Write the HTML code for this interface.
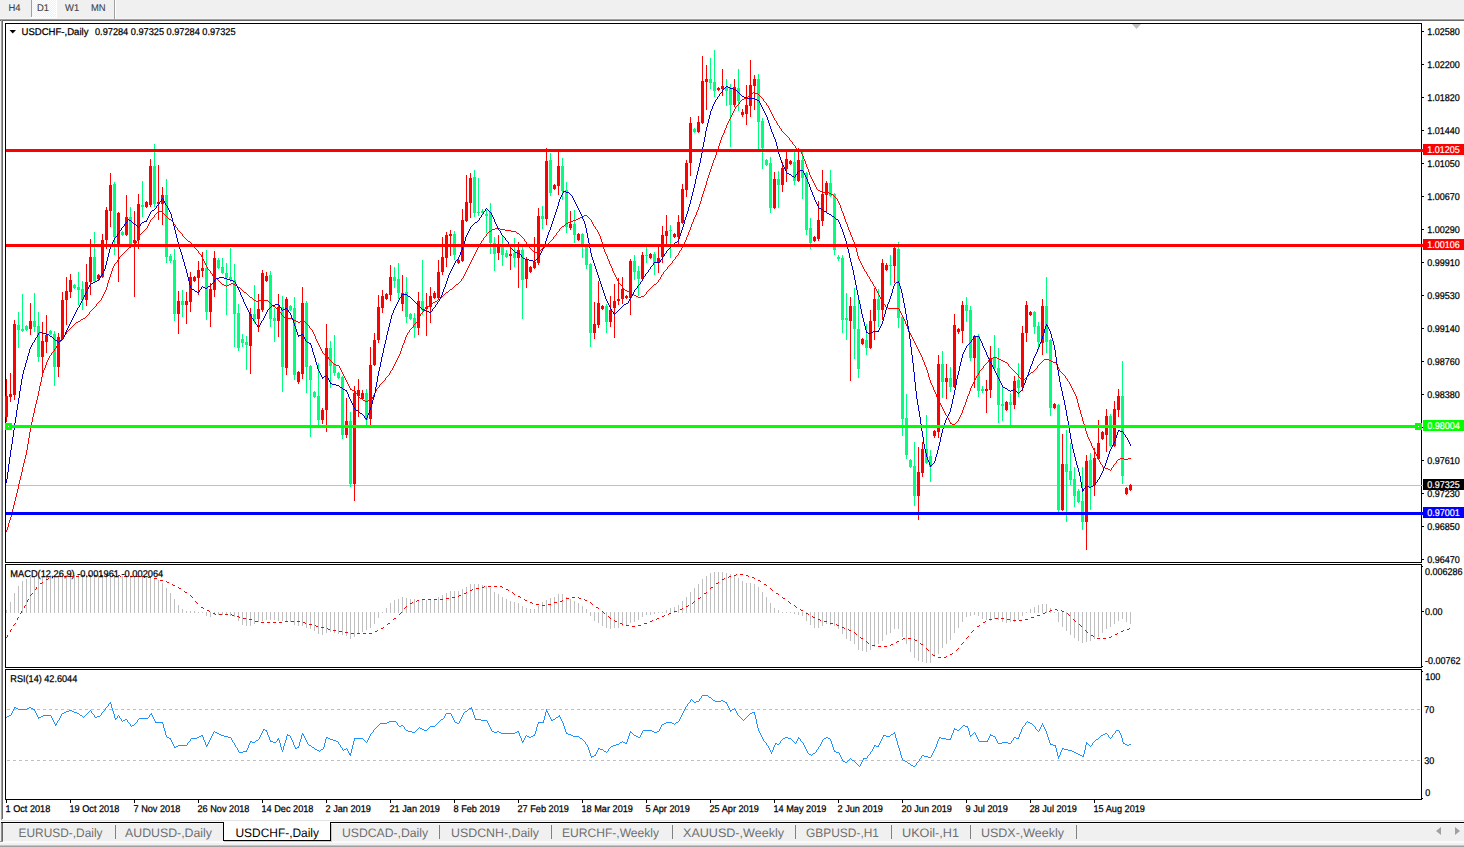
<!DOCTYPE html>
<html><head><meta charset="utf-8"><title>USDCHF-,Daily</title>
<style>html,body{margin:0;padding:0;background:#fff;}body{width:1464px;height:847px;overflow:hidden;position:relative;font-family:"Liberation Sans", sans-serif;}svg{position:absolute;left:0;top:0;display:block}text{font-family:"Liberation Sans", sans-serif;text-rendering:geometricPrecision;}</style>
</head><body>
<svg width="1464" height="847" viewBox="0 0 1464 847">
<rect x="0" y="0" width="1464" height="847" fill="#ffffff"/>
<g shape-rendering="crispEdges">
<rect x="0" y="0" width="1464" height="19" fill="#f0f0f0"/>
<rect x="0" y="18" width="1464" height="1" fill="#f6f6f6"/>
<rect x="0" y="19" width="1464" height="1" fill="#a0a0a0"/>
<rect x="0" y="20" width="1464" height="1" fill="#696969"/>
<defs><pattern id="chk" width="2" height="2" patternUnits="userSpaceOnUse"><rect width="2" height="2" fill="#f0f0f0"/><rect width="1" height="1" fill="#fff"/><rect x="1" y="1" width="1" height="1" fill="#fff"/></pattern></defs>
<rect x="32" y="0" width="24" height="17" fill="url(#chk)"/>
<rect x="56" y="0" width="1" height="18" fill="#ffffff"/>
<rect x="31" y="17" width="26" height="1" fill="#ffffff"/>
<rect x="31" y="0" width="1" height="17" fill="#a0a0a0"/>
<rect x="114" y="0" width="1" height="19" fill="#a0a0a0"/>
<rect x="115" y="0" width="1" height="19" fill="#ffffff"/>
<rect x="0" y="21" width="1" height="799" fill="#f4f4f4"/>
<rect x="1" y="20" width="1" height="800" fill="#a0a0a0"/>
<rect x="2" y="20" width="1" height="799" fill="#696969"/>
</g>
<text transform="translate(8.5 11) scale(0.96 1)" font-size="9.8" fill="#444444" stroke="#444444" stroke-width="0.12">H4</text>
<text transform="translate(37 11) scale(0.96 1)" font-size="9.8" fill="#444444" stroke="#444444" stroke-width="0.12">D1</text>
<text transform="translate(65 11) scale(0.96 1)" font-size="9.8" fill="#444444" stroke="#444444" stroke-width="0.12">W1</text>
<text transform="translate(91 11) scale(0.96 1)" font-size="9.8" fill="#444444" stroke="#444444" stroke-width="0.12">MN</text>
<g shape-rendering="crispEdges" fill="#000">
<rect x="5" y="23" width="1417" height="1"/>
<rect x="5" y="23" width="1" height="540"/>
<rect x="1421" y="23" width="1" height="540"/>
<rect x="5" y="564" width="1" height="104"/>
<rect x="1421" y="564" width="1" height="104"/>
<rect x="5" y="669" width="1" height="131"/>
<rect x="1421" y="669" width="1" height="131"/>
<rect x="5" y="562" width="1417" height="1"/>
<rect x="5" y="564" width="1417" height="1"/>
<rect x="5" y="667" width="1417" height="1"/>
<rect x="5" y="669" width="1417" height="1"/>
<rect x="5" y="799" width="1417" height="1"/>
</g>
<g shape-rendering="crispEdges">
<rect x="6" y="485" width="1417" height="1" fill="#c0c0c0"/>
</g>
<g shape-rendering="crispEdges">
<rect x="6" y="379" width="1" height="43" fill="#ff0000"/>
<rect x="5" y="396" width="3" height="21" fill="#ff0000"/>
<rect x="10" y="373" width="1" height="29" fill="#ff0000"/>
<rect x="9" y="394" width="3" height="3" fill="#ff0000"/>
<rect x="14" y="320" width="1" height="80" fill="#ff0000"/>
<rect x="13" y="324" width="3" height="71" fill="#ff0000"/>
<rect x="18" y="312" width="1" height="36" fill="#00ff7f"/>
<rect x="17" y="325" width="3" height="5" fill="#00ff7f"/>
<rect x="22" y="294" width="1" height="38" fill="#00ff7f"/>
<rect x="21" y="329" width="3" height="2" fill="#00ff7f"/>
<rect x="26" y="325" width="1" height="6" fill="#00ff7f"/>
<rect x="25" y="326" width="3" height="4" fill="#00ff7f"/>
<rect x="30" y="303" width="1" height="32" fill="#ff0000"/>
<rect x="29" y="321" width="3" height="8" fill="#ff0000"/>
<rect x="34" y="293" width="1" height="39" fill="#00ff7f"/>
<rect x="33" y="321" width="3" height="6" fill="#00ff7f"/>
<rect x="38" y="312" width="1" height="50" fill="#00ff7f"/>
<rect x="37" y="326" width="3" height="31" fill="#00ff7f"/>
<rect x="42" y="322" width="1" height="55" fill="#ff0000"/>
<rect x="41" y="341" width="3" height="16" fill="#ff0000"/>
<rect x="46" y="315" width="1" height="38" fill="#ff0000"/>
<rect x="45" y="335" width="3" height="7" fill="#ff0000"/>
<rect x="50" y="330" width="1" height="5" fill="#00ff7f"/>
<rect x="49" y="331" width="3" height="3" fill="#00ff7f"/>
<rect x="54" y="331" width="1" height="55" fill="#00ff7f"/>
<rect x="53" y="334" width="3" height="33" fill="#00ff7f"/>
<rect x="58" y="333" width="1" height="44" fill="#ff0000"/>
<rect x="57" y="337" width="3" height="30" fill="#ff0000"/>
<rect x="62" y="292" width="1" height="48" fill="#ff0000"/>
<rect x="61" y="300" width="3" height="39" fill="#ff0000"/>
<rect x="66" y="277" width="1" height="48" fill="#ff0000"/>
<rect x="65" y="291" width="3" height="9" fill="#ff0000"/>
<rect x="70" y="274" width="1" height="24" fill="#ff0000"/>
<rect x="69" y="280" width="3" height="12" fill="#ff0000"/>
<rect x="74" y="284" width="1" height="5" fill="#00ff7f"/>
<rect x="73" y="285" width="3" height="3" fill="#00ff7f"/>
<rect x="78" y="272" width="1" height="33" fill="#00ff7f"/>
<rect x="77" y="287" width="3" height="3" fill="#00ff7f"/>
<rect x="82" y="281" width="1" height="29" fill="#00ff7f"/>
<rect x="81" y="289" width="3" height="11" fill="#00ff7f"/>
<rect x="86" y="264" width="1" height="42" fill="#ff0000"/>
<rect x="85" y="282" width="3" height="18" fill="#ff0000"/>
<rect x="90" y="239" width="1" height="56" fill="#ff0000"/>
<rect x="89" y="257" width="3" height="25" fill="#ff0000"/>
<rect x="94" y="232" width="1" height="50" fill="#00ff7f"/>
<rect x="93" y="257" width="3" height="24" fill="#00ff7f"/>
<rect x="98" y="274" width="1" height="6" fill="#ff0000"/>
<rect x="97" y="275" width="3" height="4" fill="#ff0000"/>
<rect x="102" y="234" width="1" height="44" fill="#ff0000"/>
<rect x="101" y="240" width="3" height="37" fill="#ff0000"/>
<rect x="106" y="207" width="1" height="42" fill="#ff0000"/>
<rect x="105" y="210" width="3" height="30" fill="#ff0000"/>
<rect x="110" y="173" width="1" height="54" fill="#ff0000"/>
<rect x="109" y="185" width="3" height="26" fill="#ff0000"/>
<rect x="114" y="182" width="1" height="73" fill="#00ff7f"/>
<rect x="113" y="184" width="3" height="53" fill="#00ff7f"/>
<rect x="118" y="212" width="1" height="70" fill="#ff0000"/>
<rect x="117" y="213" width="3" height="32" fill="#ff0000"/>
<rect x="122" y="231" width="1" height="5" fill="#00ff7f"/>
<rect x="121" y="232" width="3" height="3" fill="#00ff7f"/>
<rect x="126" y="195" width="1" height="41" fill="#ff0000"/>
<rect x="125" y="217" width="3" height="18" fill="#ff0000"/>
<rect x="130" y="207" width="1" height="38" fill="#00ff7f"/>
<rect x="129" y="217" width="3" height="27" fill="#00ff7f"/>
<rect x="134" y="211" width="1" height="86" fill="#ff0000"/>
<rect x="133" y="240" width="3" height="3" fill="#ff0000"/>
<rect x="138" y="194" width="1" height="55" fill="#ff0000"/>
<rect x="137" y="204" width="3" height="36" fill="#ff0000"/>
<rect x="142" y="181" width="1" height="36" fill="#00ff7f"/>
<rect x="141" y="205" width="3" height="2" fill="#00ff7f"/>
<rect x="146" y="201" width="1" height="7" fill="#ff0000"/>
<rect x="145" y="202" width="3" height="5" fill="#ff0000"/>
<rect x="150" y="159" width="1" height="48" fill="#ff0000"/>
<rect x="149" y="166" width="3" height="39" fill="#ff0000"/>
<rect x="154" y="144" width="1" height="63" fill="#00ff7f"/>
<rect x="153" y="166" width="3" height="38" fill="#00ff7f"/>
<rect x="158" y="165" width="1" height="55" fill="#ff0000"/>
<rect x="157" y="202" width="3" height="2" fill="#ff0000"/>
<rect x="162" y="187" width="1" height="38" fill="#ff0000"/>
<rect x="161" y="195" width="3" height="9" fill="#ff0000"/>
<rect x="166" y="179" width="1" height="84" fill="#00ff7f"/>
<rect x="165" y="195" width="3" height="62" fill="#00ff7f"/>
<rect x="170" y="254" width="1" height="9" fill="#00ff7f"/>
<rect x="169" y="256" width="3" height="5" fill="#00ff7f"/>
<rect x="174" y="249" width="1" height="72" fill="#00ff7f"/>
<rect x="173" y="260" width="3" height="54" fill="#00ff7f"/>
<rect x="178" y="291" width="1" height="43" fill="#ff0000"/>
<rect x="177" y="301" width="3" height="13" fill="#ff0000"/>
<rect x="182" y="290" width="1" height="27" fill="#00ff7f"/>
<rect x="181" y="301" width="3" height="4" fill="#00ff7f"/>
<rect x="186" y="292" width="1" height="32" fill="#ff0000"/>
<rect x="185" y="301" width="3" height="4" fill="#ff0000"/>
<rect x="190" y="272" width="1" height="40" fill="#ff0000"/>
<rect x="189" y="277" width="3" height="25" fill="#ff0000"/>
<rect x="194" y="276" width="1" height="6" fill="#ff0000"/>
<rect x="193" y="277" width="3" height="4" fill="#ff0000"/>
<rect x="198" y="261" width="1" height="34" fill="#ff0000"/>
<rect x="197" y="270" width="3" height="8" fill="#ff0000"/>
<rect x="202" y="252" width="1" height="25" fill="#ff0000"/>
<rect x="201" y="268" width="3" height="3" fill="#ff0000"/>
<rect x="206" y="250" width="1" height="70" fill="#00ff7f"/>
<rect x="205" y="268" width="3" height="44" fill="#00ff7f"/>
<rect x="210" y="283" width="1" height="44" fill="#ff0000"/>
<rect x="209" y="289" width="3" height="23" fill="#ff0000"/>
<rect x="214" y="251" width="1" height="46" fill="#ff0000"/>
<rect x="213" y="258" width="3" height="32" fill="#ff0000"/>
<rect x="218" y="258" width="1" height="11" fill="#00ff7f"/>
<rect x="217" y="260" width="3" height="8" fill="#00ff7f"/>
<rect x="222" y="258" width="1" height="16" fill="#00ff7f"/>
<rect x="221" y="267" width="3" height="6" fill="#00ff7f"/>
<rect x="226" y="263" width="1" height="52" fill="#00ff7f"/>
<rect x="225" y="273" width="3" height="5" fill="#00ff7f"/>
<rect x="230" y="248" width="1" height="34" fill="#00ff7f"/>
<rect x="229" y="277" width="3" height="3" fill="#00ff7f"/>
<rect x="234" y="264" width="1" height="83" fill="#00ff7f"/>
<rect x="233" y="280" width="3" height="34" fill="#00ff7f"/>
<rect x="238" y="304" width="1" height="47" fill="#00ff7f"/>
<rect x="237" y="313" width="3" height="35" fill="#00ff7f"/>
<rect x="242" y="334" width="1" height="13" fill="#00ff7f"/>
<rect x="241" y="339" width="3" height="4" fill="#00ff7f"/>
<rect x="246" y="336" width="1" height="34" fill="#00ff7f"/>
<rect x="245" y="342" width="3" height="3" fill="#00ff7f"/>
<rect x="250" y="308" width="1" height="66" fill="#ff0000"/>
<rect x="249" y="314" width="3" height="32" fill="#ff0000"/>
<rect x="254" y="285" width="1" height="38" fill="#00ff7f"/>
<rect x="253" y="314" width="3" height="5" fill="#00ff7f"/>
<rect x="258" y="294" width="1" height="38" fill="#ff0000"/>
<rect x="257" y="309" width="3" height="10" fill="#ff0000"/>
<rect x="262" y="270" width="1" height="42" fill="#ff0000"/>
<rect x="261" y="273" width="3" height="37" fill="#ff0000"/>
<rect x="266" y="272" width="1" height="10" fill="#ff0000"/>
<rect x="265" y="276" width="3" height="5" fill="#ff0000"/>
<rect x="270" y="271" width="1" height="56" fill="#00ff7f"/>
<rect x="269" y="275" width="3" height="44" fill="#00ff7f"/>
<rect x="274" y="308" width="1" height="34" fill="#00ff7f"/>
<rect x="273" y="318" width="3" height="3" fill="#00ff7f"/>
<rect x="278" y="294" width="1" height="43" fill="#ff0000"/>
<rect x="277" y="307" width="3" height="14" fill="#ff0000"/>
<rect x="282" y="296" width="1" height="96" fill="#00ff7f"/>
<rect x="281" y="307" width="3" height="60" fill="#00ff7f"/>
<rect x="286" y="297" width="1" height="78" fill="#ff0000"/>
<rect x="285" y="299" width="3" height="69" fill="#ff0000"/>
<rect x="290" y="305" width="1" height="6" fill="#00ff7f"/>
<rect x="289" y="306" width="3" height="4" fill="#00ff7f"/>
<rect x="294" y="297" width="1" height="83" fill="#00ff7f"/>
<rect x="293" y="308" width="3" height="67" fill="#00ff7f"/>
<rect x="298" y="371" width="1" height="13" fill="#ff0000"/>
<rect x="297" y="372" width="3" height="10" fill="#ff0000"/>
<rect x="302" y="287" width="1" height="92" fill="#ff0000"/>
<rect x="301" y="303" width="3" height="71" fill="#ff0000"/>
<rect x="306" y="301" width="1" height="92" fill="#00ff7f"/>
<rect x="305" y="303" width="3" height="64" fill="#00ff7f"/>
<rect x="310" y="365" width="1" height="72" fill="#00ff7f"/>
<rect x="309" y="366" width="3" height="14" fill="#00ff7f"/>
<rect x="314" y="391" width="1" height="7" fill="#00ff7f"/>
<rect x="313" y="392" width="3" height="5" fill="#00ff7f"/>
<rect x="318" y="363" width="1" height="62" fill="#00ff7f"/>
<rect x="317" y="396" width="3" height="24" fill="#00ff7f"/>
<rect x="322" y="408" width="1" height="16" fill="#ff0000"/>
<rect x="321" y="410" width="3" height="10" fill="#ff0000"/>
<rect x="326" y="324" width="1" height="108" fill="#ff0000"/>
<rect x="325" y="348" width="3" height="62" fill="#ff0000"/>
<rect x="330" y="341" width="1" height="47" fill="#00ff7f"/>
<rect x="329" y="348" width="3" height="18" fill="#00ff7f"/>
<rect x="334" y="335" width="1" height="41" fill="#00ff7f"/>
<rect x="333" y="364" width="3" height="9" fill="#00ff7f"/>
<rect x="338" y="372" width="1" height="7" fill="#00ff7f"/>
<rect x="337" y="373" width="3" height="5" fill="#00ff7f"/>
<rect x="342" y="376" width="1" height="63" fill="#00ff7f"/>
<rect x="341" y="377" width="3" height="58" fill="#00ff7f"/>
<rect x="346" y="398" width="1" height="40" fill="#ff0000"/>
<rect x="345" y="421" width="3" height="14" fill="#ff0000"/>
<rect x="350" y="412" width="1" height="75" fill="#00ff7f"/>
<rect x="349" y="421" width="3" height="63" fill="#00ff7f"/>
<rect x="354" y="386" width="1" height="115" fill="#ff0000"/>
<rect x="353" y="393" width="3" height="91" fill="#ff0000"/>
<rect x="358" y="379" width="1" height="38" fill="#ff0000"/>
<rect x="357" y="390" width="3" height="6" fill="#ff0000"/>
<rect x="362" y="390" width="1" height="10" fill="#ff0000"/>
<rect x="361" y="393" width="3" height="6" fill="#ff0000"/>
<rect x="366" y="389" width="1" height="36" fill="#00ff7f"/>
<rect x="365" y="393" width="3" height="27" fill="#00ff7f"/>
<rect x="370" y="347" width="1" height="78" fill="#ff0000"/>
<rect x="369" y="365" width="3" height="54" fill="#ff0000"/>
<rect x="374" y="333" width="1" height="33" fill="#ff0000"/>
<rect x="373" y="340" width="3" height="25" fill="#ff0000"/>
<rect x="378" y="295" width="1" height="48" fill="#ff0000"/>
<rect x="377" y="307" width="3" height="33" fill="#ff0000"/>
<rect x="382" y="290" width="1" height="23" fill="#ff0000"/>
<rect x="381" y="296" width="3" height="12" fill="#ff0000"/>
<rect x="386" y="293" width="1" height="7" fill="#ff0000"/>
<rect x="385" y="294" width="3" height="5" fill="#ff0000"/>
<rect x="390" y="265" width="1" height="36" fill="#ff0000"/>
<rect x="389" y="277" width="3" height="18" fill="#ff0000"/>
<rect x="394" y="267" width="1" height="21" fill="#00ff7f"/>
<rect x="393" y="277" width="3" height="4" fill="#00ff7f"/>
<rect x="398" y="263" width="1" height="36" fill="#00ff7f"/>
<rect x="397" y="279" width="3" height="14" fill="#00ff7f"/>
<rect x="402" y="275" width="1" height="36" fill="#ff0000"/>
<rect x="401" y="293" width="3" height="11" fill="#ff0000"/>
<rect x="406" y="277" width="1" height="46" fill="#00ff7f"/>
<rect x="405" y="292" width="3" height="25" fill="#00ff7f"/>
<rect x="410" y="313" width="1" height="7" fill="#00ff7f"/>
<rect x="409" y="314" width="3" height="5" fill="#00ff7f"/>
<rect x="414" y="313" width="1" height="25" fill="#00ff7f"/>
<rect x="413" y="318" width="3" height="10" fill="#00ff7f"/>
<rect x="418" y="292" width="1" height="43" fill="#ff0000"/>
<rect x="417" y="301" width="3" height="27" fill="#ff0000"/>
<rect x="422" y="260" width="1" height="55" fill="#00ff7f"/>
<rect x="421" y="301" width="3" height="9" fill="#00ff7f"/>
<rect x="426" y="293" width="1" height="43" fill="#ff0000"/>
<rect x="425" y="307" width="3" height="2" fill="#ff0000"/>
<rect x="430" y="287" width="1" height="36" fill="#ff0000"/>
<rect x="429" y="296" width="3" height="11" fill="#ff0000"/>
<rect x="434" y="291" width="1" height="8" fill="#ff0000"/>
<rect x="433" y="293" width="3" height="5" fill="#ff0000"/>
<rect x="438" y="260" width="1" height="39" fill="#ff0000"/>
<rect x="437" y="272" width="3" height="26" fill="#ff0000"/>
<rect x="442" y="237" width="1" height="38" fill="#ff0000"/>
<rect x="441" y="257" width="3" height="15" fill="#ff0000"/>
<rect x="446" y="232" width="1" height="35" fill="#ff0000"/>
<rect x="445" y="235" width="3" height="23" fill="#ff0000"/>
<rect x="450" y="230" width="1" height="26" fill="#ff0000"/>
<rect x="449" y="234" width="3" height="2" fill="#ff0000"/>
<rect x="454" y="231" width="1" height="29" fill="#00ff7f"/>
<rect x="453" y="234" width="3" height="21" fill="#00ff7f"/>
<rect x="458" y="259" width="1" height="5" fill="#ff0000"/>
<rect x="457" y="260" width="3" height="3" fill="#ff0000"/>
<rect x="462" y="209" width="1" height="53" fill="#ff0000"/>
<rect x="461" y="220" width="3" height="41" fill="#ff0000"/>
<rect x="466" y="175" width="1" height="47" fill="#ff0000"/>
<rect x="465" y="202" width="3" height="19" fill="#ff0000"/>
<rect x="470" y="173" width="1" height="45" fill="#ff0000"/>
<rect x="469" y="178" width="3" height="25" fill="#ff0000"/>
<rect x="474" y="170" width="1" height="47" fill="#00ff7f"/>
<rect x="473" y="177" width="3" height="36" fill="#00ff7f"/>
<rect x="478" y="178" width="1" height="38" fill="#00ff7f"/>
<rect x="477" y="212" width="3" height="1" fill="#00ff7f"/>
<rect x="482" y="209" width="1" height="6" fill="#00ff7f"/>
<rect x="481" y="211" width="3" height="2" fill="#00ff7f"/>
<rect x="486" y="210" width="1" height="23" fill="#00ff7f"/>
<rect x="485" y="214" width="3" height="2" fill="#00ff7f"/>
<rect x="490" y="203" width="1" height="51" fill="#00ff7f"/>
<rect x="489" y="212" width="3" height="31" fill="#00ff7f"/>
<rect x="494" y="237" width="1" height="34" fill="#00ff7f"/>
<rect x="493" y="243" width="3" height="11" fill="#00ff7f"/>
<rect x="498" y="235" width="1" height="25" fill="#ff0000"/>
<rect x="497" y="247" width="3" height="6" fill="#ff0000"/>
<rect x="502" y="236" width="1" height="30" fill="#00ff7f"/>
<rect x="501" y="247" width="3" height="8" fill="#00ff7f"/>
<rect x="506" y="250" width="1" height="8" fill="#00ff7f"/>
<rect x="505" y="253" width="3" height="4" fill="#00ff7f"/>
<rect x="510" y="247" width="1" height="23" fill="#ff0000"/>
<rect x="509" y="254" width="3" height="2" fill="#ff0000"/>
<rect x="514" y="238" width="1" height="29" fill="#00ff7f"/>
<rect x="513" y="253" width="3" height="5" fill="#00ff7f"/>
<rect x="518" y="242" width="1" height="46" fill="#ff0000"/>
<rect x="517" y="250" width="3" height="8" fill="#ff0000"/>
<rect x="522" y="247" width="1" height="72" fill="#00ff7f"/>
<rect x="521" y="250" width="3" height="30" fill="#00ff7f"/>
<rect x="526" y="257" width="1" height="31" fill="#ff0000"/>
<rect x="525" y="259" width="3" height="20" fill="#ff0000"/>
<rect x="530" y="266" width="1" height="7" fill="#ff0000"/>
<rect x="529" y="267" width="3" height="5" fill="#ff0000"/>
<rect x="534" y="237" width="1" height="32" fill="#ff0000"/>
<rect x="533" y="262" width="3" height="6" fill="#ff0000"/>
<rect x="538" y="208" width="1" height="57" fill="#ff0000"/>
<rect x="537" y="216" width="3" height="47" fill="#ff0000"/>
<rect x="542" y="206" width="1" height="23" fill="#00ff7f"/>
<rect x="541" y="216" width="3" height="3" fill="#00ff7f"/>
<rect x="546" y="148" width="1" height="77" fill="#ff0000"/>
<rect x="545" y="161" width="3" height="58" fill="#ff0000"/>
<rect x="550" y="153" width="1" height="43" fill="#00ff7f"/>
<rect x="549" y="160" width="3" height="33" fill="#00ff7f"/>
<rect x="554" y="184" width="1" height="6" fill="#ff0000"/>
<rect x="553" y="185" width="3" height="4" fill="#ff0000"/>
<rect x="558" y="152" width="1" height="43" fill="#ff0000"/>
<rect x="557" y="166" width="3" height="20" fill="#ff0000"/>
<rect x="562" y="158" width="1" height="42" fill="#00ff7f"/>
<rect x="561" y="166" width="3" height="25" fill="#00ff7f"/>
<rect x="566" y="182" width="1" height="51" fill="#00ff7f"/>
<rect x="565" y="190" width="3" height="37" fill="#00ff7f"/>
<rect x="570" y="211" width="1" height="19" fill="#ff0000"/>
<rect x="569" y="224" width="3" height="4" fill="#ff0000"/>
<rect x="574" y="210" width="1" height="33" fill="#00ff7f"/>
<rect x="573" y="224" width="3" height="11" fill="#00ff7f"/>
<rect x="578" y="233" width="1" height="8" fill="#ff0000"/>
<rect x="577" y="234" width="3" height="6" fill="#ff0000"/>
<rect x="582" y="233" width="1" height="25" fill="#00ff7f"/>
<rect x="581" y="234" width="3" height="10" fill="#00ff7f"/>
<rect x="586" y="246" width="1" height="23" fill="#00ff7f"/>
<rect x="585" y="247" width="3" height="18" fill="#00ff7f"/>
<rect x="590" y="263" width="1" height="84" fill="#00ff7f"/>
<rect x="589" y="264" width="3" height="69" fill="#00ff7f"/>
<rect x="594" y="302" width="1" height="37" fill="#ff0000"/>
<rect x="593" y="324" width="3" height="9" fill="#ff0000"/>
<rect x="598" y="281" width="1" height="47" fill="#ff0000"/>
<rect x="597" y="303" width="3" height="22" fill="#ff0000"/>
<rect x="602" y="305" width="1" height="5" fill="#ff0000"/>
<rect x="601" y="306" width="3" height="3" fill="#ff0000"/>
<rect x="606" y="304" width="1" height="29" fill="#00ff7f"/>
<rect x="605" y="306" width="3" height="16" fill="#00ff7f"/>
<rect x="610" y="296" width="1" height="31" fill="#ff0000"/>
<rect x="609" y="310" width="3" height="12" fill="#ff0000"/>
<rect x="614" y="284" width="1" height="54" fill="#ff0000"/>
<rect x="613" y="301" width="3" height="7" fill="#ff0000"/>
<rect x="618" y="278" width="1" height="27" fill="#ff0000"/>
<rect x="617" y="299" width="3" height="2" fill="#ff0000"/>
<rect x="622" y="277" width="1" height="27" fill="#ff0000"/>
<rect x="621" y="289" width="3" height="10" fill="#ff0000"/>
<rect x="626" y="295" width="1" height="4" fill="#ff0000"/>
<rect x="625" y="296" width="3" height="2" fill="#ff0000"/>
<rect x="630" y="259" width="1" height="56" fill="#ff0000"/>
<rect x="629" y="261" width="3" height="37" fill="#ff0000"/>
<rect x="634" y="255" width="1" height="25" fill="#00ff7f"/>
<rect x="633" y="261" width="3" height="11" fill="#00ff7f"/>
<rect x="638" y="266" width="1" height="30" fill="#00ff7f"/>
<rect x="637" y="271" width="3" height="8" fill="#00ff7f"/>
<rect x="642" y="252" width="1" height="28" fill="#ff0000"/>
<rect x="641" y="255" width="3" height="24" fill="#ff0000"/>
<rect x="646" y="247" width="1" height="16" fill="#00ff7f"/>
<rect x="645" y="255" width="3" height="1" fill="#00ff7f"/>
<rect x="650" y="253" width="1" height="6" fill="#ff0000"/>
<rect x="649" y="254" width="3" height="4" fill="#ff0000"/>
<rect x="654" y="252" width="1" height="23" fill="#00ff7f"/>
<rect x="653" y="254" width="3" height="9" fill="#00ff7f"/>
<rect x="658" y="247" width="1" height="26" fill="#ff0000"/>
<rect x="657" y="258" width="3" height="4" fill="#ff0000"/>
<rect x="662" y="226" width="1" height="37" fill="#ff0000"/>
<rect x="661" y="235" width="3" height="22" fill="#ff0000"/>
<rect x="666" y="215" width="1" height="32" fill="#ff0000"/>
<rect x="665" y="231" width="3" height="5" fill="#ff0000"/>
<rect x="670" y="225" width="1" height="33" fill="#00ff7f"/>
<rect x="669" y="230" width="3" height="1" fill="#00ff7f"/>
<rect x="674" y="233" width="1" height="5" fill="#ff0000"/>
<rect x="673" y="234" width="3" height="3" fill="#ff0000"/>
<rect x="678" y="215" width="1" height="32" fill="#ff0000"/>
<rect x="677" y="222" width="3" height="15" fill="#ff0000"/>
<rect x="682" y="184" width="1" height="40" fill="#ff0000"/>
<rect x="681" y="189" width="3" height="34" fill="#ff0000"/>
<rect x="686" y="160" width="1" height="37" fill="#ff0000"/>
<rect x="685" y="163" width="3" height="27" fill="#ff0000"/>
<rect x="690" y="117" width="1" height="59" fill="#ff0000"/>
<rect x="689" y="123" width="3" height="40" fill="#ff0000"/>
<rect x="694" y="128" width="1" height="5" fill="#00ff7f"/>
<rect x="693" y="129" width="3" height="3" fill="#00ff7f"/>
<rect x="698" y="116" width="1" height="17" fill="#ff0000"/>
<rect x="697" y="122" width="3" height="10" fill="#ff0000"/>
<rect x="702" y="56" width="1" height="68" fill="#ff0000"/>
<rect x="701" y="81" width="3" height="42" fill="#ff0000"/>
<rect x="706" y="65" width="1" height="45" fill="#ff0000"/>
<rect x="705" y="79" width="3" height="3" fill="#ff0000"/>
<rect x="710" y="58" width="1" height="31" fill="#00ff7f"/>
<rect x="709" y="79" width="3" height="4" fill="#00ff7f"/>
<rect x="714" y="50" width="1" height="47" fill="#00ff7f"/>
<rect x="713" y="82" width="3" height="9" fill="#00ff7f"/>
<rect x="718" y="87" width="1" height="4" fill="#ff0000"/>
<rect x="717" y="88" width="3" height="2" fill="#ff0000"/>
<rect x="722" y="69" width="1" height="27" fill="#ff0000"/>
<rect x="721" y="86" width="3" height="3" fill="#ff0000"/>
<rect x="726" y="79" width="1" height="27" fill="#00ff7f"/>
<rect x="725" y="87" width="3" height="4" fill="#00ff7f"/>
<rect x="730" y="84" width="1" height="63" fill="#00ff7f"/>
<rect x="729" y="88" width="3" height="17" fill="#00ff7f"/>
<rect x="734" y="79" width="1" height="28" fill="#ff0000"/>
<rect x="733" y="87" width="3" height="18" fill="#ff0000"/>
<rect x="738" y="69" width="1" height="42" fill="#00ff7f"/>
<rect x="737" y="88" width="3" height="13" fill="#00ff7f"/>
<rect x="742" y="109" width="1" height="8" fill="#ff0000"/>
<rect x="741" y="112" width="3" height="3" fill="#ff0000"/>
<rect x="746" y="85" width="1" height="40" fill="#ff0000"/>
<rect x="745" y="105" width="3" height="9" fill="#ff0000"/>
<rect x="750" y="60" width="1" height="57" fill="#ff0000"/>
<rect x="749" y="85" width="3" height="21" fill="#ff0000"/>
<rect x="754" y="75" width="1" height="35" fill="#ff0000"/>
<rect x="753" y="79" width="3" height="7" fill="#ff0000"/>
<rect x="758" y="74" width="1" height="75" fill="#00ff7f"/>
<rect x="757" y="79" width="3" height="43" fill="#00ff7f"/>
<rect x="762" y="118" width="1" height="51" fill="#00ff7f"/>
<rect x="761" y="121" width="3" height="27" fill="#00ff7f"/>
<rect x="766" y="159" width="1" height="7" fill="#00ff7f"/>
<rect x="765" y="160" width="3" height="5" fill="#00ff7f"/>
<rect x="770" y="157" width="1" height="56" fill="#00ff7f"/>
<rect x="769" y="163" width="3" height="45" fill="#00ff7f"/>
<rect x="774" y="172" width="1" height="37" fill="#ff0000"/>
<rect x="773" y="179" width="3" height="29" fill="#ff0000"/>
<rect x="778" y="171" width="1" height="37" fill="#00ff7f"/>
<rect x="777" y="179" width="3" height="6" fill="#00ff7f"/>
<rect x="782" y="162" width="1" height="30" fill="#ff0000"/>
<rect x="781" y="168" width="3" height="17" fill="#ff0000"/>
<rect x="786" y="152" width="1" height="30" fill="#ff0000"/>
<rect x="785" y="159" width="3" height="10" fill="#ff0000"/>
<rect x="790" y="160" width="1" height="5" fill="#ff0000"/>
<rect x="789" y="161" width="3" height="3" fill="#ff0000"/>
<rect x="794" y="152" width="1" height="33" fill="#00ff7f"/>
<rect x="793" y="162" width="3" height="19" fill="#00ff7f"/>
<rect x="798" y="148" width="1" height="34" fill="#ff0000"/>
<rect x="797" y="160" width="3" height="21" fill="#ff0000"/>
<rect x="802" y="152" width="1" height="47" fill="#00ff7f"/>
<rect x="801" y="160" width="3" height="18" fill="#00ff7f"/>
<rect x="806" y="172" width="1" height="63" fill="#00ff7f"/>
<rect x="805" y="173" width="3" height="57" fill="#00ff7f"/>
<rect x="810" y="218" width="1" height="31" fill="#00ff7f"/>
<rect x="809" y="228" width="3" height="15" fill="#00ff7f"/>
<rect x="814" y="236" width="1" height="6" fill="#ff0000"/>
<rect x="813" y="237" width="3" height="4" fill="#ff0000"/>
<rect x="818" y="201" width="1" height="40" fill="#ff0000"/>
<rect x="817" y="220" width="3" height="19" fill="#ff0000"/>
<rect x="822" y="170" width="1" height="56" fill="#ff0000"/>
<rect x="821" y="194" width="3" height="27" fill="#ff0000"/>
<rect x="826" y="181" width="1" height="32" fill="#ff0000"/>
<rect x="825" y="183" width="3" height="12" fill="#ff0000"/>
<rect x="830" y="170" width="1" height="27" fill="#00ff7f"/>
<rect x="829" y="183" width="3" height="13" fill="#00ff7f"/>
<rect x="834" y="193" width="1" height="62" fill="#00ff7f"/>
<rect x="833" y="194" width="3" height="56" fill="#00ff7f"/>
<rect x="838" y="255" width="1" height="6" fill="#00ff7f"/>
<rect x="837" y="257" width="3" height="2" fill="#00ff7f"/>
<rect x="842" y="255" width="1" height="78" fill="#00ff7f"/>
<rect x="841" y="258" width="3" height="62" fill="#00ff7f"/>
<rect x="846" y="293" width="1" height="47" fill="#00ff7f"/>
<rect x="845" y="318" width="3" height="2" fill="#00ff7f"/>
<rect x="850" y="297" width="1" height="84" fill="#ff0000"/>
<rect x="849" y="306" width="3" height="15" fill="#ff0000"/>
<rect x="854" y="288" width="1" height="71" fill="#00ff7f"/>
<rect x="853" y="306" width="3" height="23" fill="#00ff7f"/>
<rect x="858" y="298" width="1" height="80" fill="#00ff7f"/>
<rect x="857" y="329" width="3" height="40" fill="#00ff7f"/>
<rect x="862" y="338" width="1" height="7" fill="#ff0000"/>
<rect x="861" y="339" width="3" height="5" fill="#ff0000"/>
<rect x="866" y="324" width="1" height="31" fill="#00ff7f"/>
<rect x="865" y="340" width="3" height="8" fill="#00ff7f"/>
<rect x="870" y="310" width="1" height="39" fill="#ff0000"/>
<rect x="869" y="321" width="3" height="27" fill="#ff0000"/>
<rect x="874" y="288" width="1" height="52" fill="#ff0000"/>
<rect x="873" y="299" width="3" height="22" fill="#ff0000"/>
<rect x="878" y="289" width="1" height="38" fill="#00ff7f"/>
<rect x="877" y="299" width="3" height="11" fill="#00ff7f"/>
<rect x="882" y="259" width="1" height="61" fill="#ff0000"/>
<rect x="881" y="263" width="3" height="47" fill="#ff0000"/>
<rect x="886" y="263" width="1" height="8" fill="#ff0000"/>
<rect x="885" y="265" width="3" height="5" fill="#ff0000"/>
<rect x="890" y="255" width="1" height="30" fill="#00ff7f"/>
<rect x="889" y="265" width="3" height="1" fill="#00ff7f"/>
<rect x="894" y="247" width="1" height="36" fill="#ff0000"/>
<rect x="893" y="248" width="3" height="18" fill="#ff0000"/>
<rect x="898" y="242" width="1" height="86" fill="#00ff7f"/>
<rect x="897" y="249" width="3" height="69" fill="#00ff7f"/>
<rect x="902" y="316" width="1" height="120" fill="#00ff7f"/>
<rect x="901" y="317" width="3" height="102" fill="#00ff7f"/>
<rect x="906" y="394" width="1" height="65" fill="#00ff7f"/>
<rect x="905" y="418" width="3" height="37" fill="#00ff7f"/>
<rect x="910" y="459" width="1" height="9" fill="#00ff7f"/>
<rect x="909" y="460" width="3" height="7" fill="#00ff7f"/>
<rect x="914" y="442" width="1" height="64" fill="#00ff7f"/>
<rect x="913" y="466" width="3" height="30" fill="#00ff7f"/>
<rect x="918" y="447" width="1" height="73" fill="#ff0000"/>
<rect x="917" y="472" width="3" height="24" fill="#ff0000"/>
<rect x="922" y="442" width="1" height="35" fill="#ff0000"/>
<rect x="921" y="449" width="3" height="24" fill="#ff0000"/>
<rect x="926" y="415" width="1" height="49" fill="#00ff7f"/>
<rect x="925" y="449" width="3" height="14" fill="#00ff7f"/>
<rect x="930" y="450" width="1" height="32" fill="#00ff7f"/>
<rect x="929" y="456" width="3" height="11" fill="#00ff7f"/>
<rect x="934" y="430" width="1" height="8" fill="#ff0000"/>
<rect x="933" y="431" width="3" height="5" fill="#ff0000"/>
<rect x="938" y="355" width="1" height="83" fill="#ff0000"/>
<rect x="937" y="364" width="3" height="68" fill="#ff0000"/>
<rect x="942" y="351" width="1" height="47" fill="#00ff7f"/>
<rect x="941" y="364" width="3" height="18" fill="#00ff7f"/>
<rect x="946" y="364" width="1" height="35" fill="#ff0000"/>
<rect x="945" y="378" width="3" height="4" fill="#ff0000"/>
<rect x="950" y="367" width="1" height="25" fill="#00ff7f"/>
<rect x="949" y="378" width="3" height="9" fill="#00ff7f"/>
<rect x="954" y="314" width="1" height="74" fill="#ff0000"/>
<rect x="953" y="325" width="3" height="62" fill="#ff0000"/>
<rect x="958" y="328" width="1" height="6" fill="#ff0000"/>
<rect x="957" y="329" width="3" height="3" fill="#ff0000"/>
<rect x="962" y="301" width="1" height="42" fill="#ff0000"/>
<rect x="961" y="305" width="3" height="26" fill="#ff0000"/>
<rect x="966" y="297" width="1" height="25" fill="#00ff7f"/>
<rect x="965" y="305" width="3" height="6" fill="#00ff7f"/>
<rect x="970" y="306" width="1" height="55" fill="#00ff7f"/>
<rect x="969" y="310" width="3" height="48" fill="#00ff7f"/>
<rect x="974" y="335" width="1" height="53" fill="#ff0000"/>
<rect x="973" y="336" width="3" height="22" fill="#ff0000"/>
<rect x="978" y="334" width="1" height="63" fill="#00ff7f"/>
<rect x="977" y="336" width="3" height="55" fill="#00ff7f"/>
<rect x="982" y="386" width="1" height="7" fill="#00ff7f"/>
<rect x="981" y="389" width="3" height="2" fill="#00ff7f"/>
<rect x="986" y="380" width="1" height="33" fill="#ff0000"/>
<rect x="985" y="389" width="3" height="2" fill="#ff0000"/>
<rect x="990" y="346" width="1" height="52" fill="#ff0000"/>
<rect x="989" y="358" width="3" height="32" fill="#ff0000"/>
<rect x="994" y="335" width="1" height="34" fill="#00ff7f"/>
<rect x="993" y="358" width="3" height="10" fill="#00ff7f"/>
<rect x="998" y="348" width="1" height="75" fill="#00ff7f"/>
<rect x="997" y="368" width="3" height="37" fill="#00ff7f"/>
<rect x="1002" y="387" width="1" height="34" fill="#00ff7f"/>
<rect x="1001" y="404" width="3" height="2" fill="#00ff7f"/>
<rect x="1006" y="401" width="1" height="10" fill="#ff0000"/>
<rect x="1005" y="402" width="3" height="8" fill="#ff0000"/>
<rect x="1010" y="393" width="1" height="32" fill="#00ff7f"/>
<rect x="1009" y="402" width="3" height="3" fill="#00ff7f"/>
<rect x="1014" y="376" width="1" height="33" fill="#ff0000"/>
<rect x="1013" y="381" width="3" height="24" fill="#ff0000"/>
<rect x="1018" y="363" width="1" height="34" fill="#00ff7f"/>
<rect x="1017" y="380" width="3" height="8" fill="#00ff7f"/>
<rect x="1022" y="326" width="1" height="65" fill="#ff0000"/>
<rect x="1021" y="333" width="3" height="54" fill="#ff0000"/>
<rect x="1026" y="301" width="1" height="41" fill="#ff0000"/>
<rect x="1025" y="305" width="3" height="28" fill="#ff0000"/>
<rect x="1030" y="311" width="1" height="5" fill="#ff0000"/>
<rect x="1029" y="312" width="3" height="3" fill="#ff0000"/>
<rect x="1034" y="311" width="1" height="23" fill="#00ff7f"/>
<rect x="1033" y="312" width="3" height="15" fill="#00ff7f"/>
<rect x="1038" y="322" width="1" height="28" fill="#00ff7f"/>
<rect x="1037" y="326" width="3" height="16" fill="#00ff7f"/>
<rect x="1042" y="299" width="1" height="56" fill="#ff0000"/>
<rect x="1041" y="306" width="3" height="37" fill="#ff0000"/>
<rect x="1046" y="277" width="1" height="76" fill="#00ff7f"/>
<rect x="1045" y="306" width="3" height="36" fill="#00ff7f"/>
<rect x="1050" y="339" width="1" height="77" fill="#00ff7f"/>
<rect x="1049" y="340" width="3" height="68" fill="#00ff7f"/>
<rect x="1054" y="403" width="1" height="6" fill="#ff0000"/>
<rect x="1053" y="404" width="3" height="4" fill="#ff0000"/>
<rect x="1058" y="404" width="1" height="108" fill="#00ff7f"/>
<rect x="1057" y="405" width="3" height="105" fill="#00ff7f"/>
<rect x="1062" y="434" width="1" height="77" fill="#ff0000"/>
<rect x="1061" y="464" width="3" height="46" fill="#ff0000"/>
<rect x="1066" y="430" width="1" height="92" fill="#00ff7f"/>
<rect x="1065" y="464" width="3" height="8" fill="#00ff7f"/>
<rect x="1070" y="443" width="1" height="42" fill="#00ff7f"/>
<rect x="1069" y="471" width="3" height="9" fill="#00ff7f"/>
<rect x="1074" y="467" width="1" height="40" fill="#00ff7f"/>
<rect x="1073" y="479" width="3" height="17" fill="#00ff7f"/>
<rect x="1078" y="489" width="1" height="14" fill="#00ff7f"/>
<rect x="1077" y="491" width="3" height="11" fill="#00ff7f"/>
<rect x="1082" y="467" width="1" height="63" fill="#00ff7f"/>
<rect x="1081" y="501" width="3" height="21" fill="#00ff7f"/>
<rect x="1086" y="455" width="1" height="95" fill="#ff0000"/>
<rect x="1085" y="461" width="3" height="61" fill="#ff0000"/>
<rect x="1090" y="453" width="1" height="57" fill="#00ff7f"/>
<rect x="1089" y="460" width="3" height="27" fill="#00ff7f"/>
<rect x="1094" y="448" width="1" height="48" fill="#ff0000"/>
<rect x="1093" y="458" width="3" height="27" fill="#ff0000"/>
<rect x="1098" y="420" width="1" height="40" fill="#ff0000"/>
<rect x="1097" y="443" width="3" height="16" fill="#ff0000"/>
<rect x="1102" y="431" width="1" height="9" fill="#ff0000"/>
<rect x="1101" y="432" width="3" height="7" fill="#ff0000"/>
<rect x="1106" y="409" width="1" height="43" fill="#ff0000"/>
<rect x="1105" y="416" width="3" height="19" fill="#ff0000"/>
<rect x="1110" y="414" width="1" height="33" fill="#00ff7f"/>
<rect x="1109" y="416" width="3" height="30" fill="#00ff7f"/>
<rect x="1114" y="401" width="1" height="46" fill="#ff0000"/>
<rect x="1113" y="409" width="3" height="37" fill="#ff0000"/>
<rect x="1118" y="389" width="1" height="28" fill="#ff0000"/>
<rect x="1117" y="396" width="3" height="14" fill="#ff0000"/>
<rect x="1122" y="361" width="1" height="123" fill="#00ff7f"/>
<rect x="1121" y="396" width="3" height="80" fill="#00ff7f"/>
<rect x="1126" y="487" width="1" height="8" fill="#ff0000"/>
<rect x="1125" y="488" width="3" height="6" fill="#ff0000"/>
<rect x="1130" y="484" width="1" height="7" fill="#ff0000"/>
<rect x="1129" y="485" width="3" height="5" fill="#ff0000"/>
</g>
<path shape-rendering="crispEdges" fill="none" stroke="#ff0000" stroke-width="1" d="M6.5 530v2M7.5 527v3M8.5 523v4M9.5 520v3M10.5 517v3M11.5 513v4M12.5 509v4M13.5 505v4M14.5 501v4M15.5 497v4M16.5 493v4M17.5 489v4M18.5 484v5M19.5 480v4M20.5 476v4M21.5 472v4M22.5 467v5M23.5 463v4M24.5 459v4M25.5 455v4M26.5 450v5M27.5 444v6M28.5 438v6M29.5 432v6M30.5 426v6M31.5 422v4M32.5 417v5M33.5 413v4M34.5 408v5M35.5 404v4M36.5 400v4M37.5 396v4M38.5 391v5M39.5 386v5M40.5 382v4M41.5 377v5M42.5 373v4M43.5 370v3M44.5 368v2M45.5 365v3M46.5 362v3M47.5 360v2M48.5 358v2M49.5 356v2M50.5 355v1M51.5 353v2M52.5 352v1M53.5 351v1M54.5 349v2M55.5 348v1M56.5 346v2M57.5 345v1M58.5 343v2M59.5 342v1M60.5 341v1M61.5 339v2M62.5 338v1M63.5 336v2M64.5 335v1M65.5 334v1M66.5 332v2M67.5 331v1M68.5 330v1M69.5 329v1M70.5 328v1M71.5 327v1M72.5 326v1M73.5 325v1M74.5 324v1M75.5 323v1M76.5 322v1M77.5 322v1M78.5 321v1M79.5 321v1M80.5 320v1M81.5 319v1M82.5 319v1M83.5 318v1M84.5 318v1M85.5 317v1M86.5 316v1M87.5 315v1M88.5 314v1M89.5 312v2M90.5 311v1M91.5 310v1M92.5 309v1M93.5 308v1M94.5 307v1M95.5 306v1M96.5 304v2M97.5 303v1M98.5 302v1M99.5 301v1M100.5 300v1M101.5 298v2M102.5 296v2M103.5 294v2M104.5 292v2M105.5 290v2M106.5 287v3M107.5 283v4M108.5 280v3M109.5 277v3M110.5 274v3M111.5 271v3M112.5 268v3M113.5 266v2M114.5 264v2M115.5 263v1M116.5 262v1M117.5 260v2M118.5 259v1M119.5 257v2M120.5 256v1M121.5 255v1M122.5 254v1M123.5 253v1M124.5 252v1M125.5 251v1M126.5 250v1M127.5 249v1M128.5 248v1M129.5 247v1M130.5 247v1M131.5 246v1M132.5 245v1M133.5 244v1M134.5 244v1M135.5 243v1M136.5 241v2M137.5 239v2M138.5 237v2M139.5 235v2M140.5 234v1M141.5 233v1M142.5 232v1M143.5 231v1M144.5 230v1M145.5 229v1M146.5 228v1M147.5 226v2M148.5 224v2M149.5 222v2M150.5 220v2M151.5 219v1M152.5 218v1M153.5 217v1M154.5 215v2M155.5 214v1M156.5 213v1M157.5 212v1M158.5 212v1M159.5 211v1M160.5 211v1M161.5 211v1M162.5 212v1M163.5 213v1M164.5 214v1M165.5 215v1M166.5 216v1M167.5 217v1M168.5 218v1M169.5 219v1M170.5 219v1M171.5 220v1M172.5 221v1M173.5 222v2M174.5 224v1M175.5 225v2M176.5 227v1M177.5 228v2M178.5 230v1M179.5 231v1M180.5 232v1M181.5 233v1M182.5 234v2M183.5 236v1M184.5 237v1M185.5 238v1M186.5 239v1M187.5 240v1M188.5 241v1M189.5 241v1M190.5 242v1M191.5 243v1M192.5 244v1M193.5 245v2M194.5 247v1M195.5 248v1M196.5 249v1M197.5 250v1M198.5 251v2M199.5 253v1M200.5 254v1M201.5 255v2M202.5 257v2M203.5 259v2M204.5 261v2M205.5 263v2M206.5 265v2M207.5 267v2M208.5 269v1M209.5 270v1M210.5 271v2M211.5 273v1M212.5 274v2M213.5 276v1M214.5 277v1M215.5 277v1M216.5 278v1M217.5 279v1M218.5 280v1M219.5 281v1M220.5 282v1M221.5 283v1M222.5 284v1M223.5 284v1M224.5 285v1M225.5 285v1M226.5 286v1M227.5 285v1M228.5 285v1M229.5 284v1M230.5 284v1M231.5 283v1M232.5 283v1M233.5 284v1M234.5 284v1M235.5 285v1M236.5 285v1M237.5 286v1M238.5 287v1M239.5 287v1M240.5 288v1M241.5 289v1M242.5 290v1M243.5 291v1M244.5 292v1M245.5 292v1M246.5 293v1M247.5 294v1M248.5 295v1M249.5 296v1M250.5 297v1M251.5 297v1M252.5 298v1M253.5 299v1M254.5 300v1M255.5 300v1M256.5 301v1M257.5 301v1M258.5 301v1M259.5 300v1M260.5 300v1M261.5 300v1M262.5 300v1M263.5 300v1M264.5 300v1M265.5 300v1M266.5 300v1M267.5 300v1M268.5 301v1M269.5 302v1M270.5 303v1M271.5 304v1M272.5 305v1M273.5 306v1M274.5 306v1M275.5 307v1M276.5 308v1M277.5 308v1M278.5 309v1M279.5 310v2M280.5 312v1M281.5 313v2M282.5 315v1M283.5 316v1M284.5 317v1M285.5 317v1M286.5 318v1M287.5 318v1M288.5 318v1M289.5 318v1M290.5 318v1M291.5 318v1M292.5 319v1M293.5 319v1M294.5 320v1M295.5 320v1M296.5 321v1M297.5 321v1M298.5 322v1M299.5 322v1M300.5 321v1M301.5 320v1M302.5 319v1M303.5 320v1M304.5 321v1M305.5 322v1M306.5 323v1M307.5 324v1M308.5 325v1M309.5 326v2M310.5 328v1M311.5 329v1M312.5 330v2M313.5 332v2M314.5 334v2M315.5 336v3M316.5 339v2M317.5 341v2M318.5 343v2M319.5 345v2M320.5 347v2M321.5 349v2M322.5 351v2M323.5 353v1M324.5 354v1M325.5 354v1M326.5 355v1M327.5 356v1M328.5 357v2M329.5 359v1M330.5 360v1M331.5 361v1M332.5 362v1M333.5 363v1M334.5 364v1M335.5 364v1M336.5 365v1M337.5 365v1M338.5 365v1M339.5 366v2M340.5 368v2M341.5 370v2M342.5 372v2M343.5 374v2M344.5 376v2M345.5 378v2M346.5 380v2M347.5 382v2M348.5 384v2M349.5 386v2M350.5 388v2M351.5 389v1M352.5 390v1M353.5 390v1M354.5 390v1M355.5 391v2M356.5 393v1M357.5 394v2M358.5 396v1M359.5 397v1M360.5 398v1M361.5 398v1M362.5 399v1M363.5 400v1M364.5 400v1M365.5 401v1M366.5 401v1M367.5 401v1M368.5 400v1M369.5 400v1M370.5 399v1M371.5 399v1M372.5 397v2M373.5 395v2M374.5 393v2M375.5 391v2M376.5 389v2M377.5 388v1M378.5 387v1M379.5 385v2M380.5 384v1M381.5 383v1M382.5 382v1M383.5 381v1M384.5 380v1M385.5 378v2M386.5 377v1M387.5 376v1M388.5 375v1M389.5 373v2M390.5 371v2M391.5 370v1M392.5 368v2M393.5 366v2M394.5 364v2M395.5 362v2M396.5 360v2M397.5 358v2M398.5 356v2M399.5 354v2M400.5 351v3M401.5 348v3M402.5 345v3M403.5 343v2M404.5 340v3M405.5 337v3M406.5 335v2M407.5 333v2M408.5 332v1M409.5 330v2M410.5 329v1M411.5 328v1M412.5 327v1M413.5 325v2M414.5 324v1M415.5 323v1M416.5 322v1M417.5 320v2M418.5 318v2M419.5 316v2M420.5 314v2M421.5 313v1M422.5 312v1M423.5 310v2M424.5 309v1M425.5 308v1M426.5 307v1M427.5 306v1M428.5 306v1M429.5 305v1M430.5 304v1M431.5 303v1M432.5 303v1M433.5 302v1M434.5 302v1M435.5 301v1M436.5 301v1M437.5 300v1M438.5 299v1M439.5 299v1M440.5 298v1M441.5 297v1M442.5 296v1M443.5 295v1M444.5 294v1M445.5 293v1M446.5 292v1M447.5 292v1M448.5 291v1M449.5 290v1M450.5 289v1M451.5 289v1M452.5 288v1M453.5 287v1M454.5 286v1M455.5 285v1M456.5 284v1M457.5 284v1M458.5 283v1M459.5 282v1M460.5 281v1M461.5 279v2M462.5 278v1M463.5 276v2M464.5 274v2M465.5 272v2M466.5 270v2M467.5 268v2M468.5 266v2M469.5 264v2M470.5 262v2M471.5 260v2M472.5 258v2M473.5 256v2M474.5 254v2M475.5 252v2M476.5 250v2M477.5 248v2M478.5 246v2M479.5 245v1M480.5 243v2M481.5 241v2M482.5 240v1M483.5 238v2M484.5 237v1M485.5 236v1M486.5 234v2M487.5 233v1M488.5 232v1M489.5 231v1M490.5 231v1M491.5 230v1M492.5 229v1M493.5 229v1M494.5 229v1M495.5 228v1M496.5 228v1M497.5 228v1M498.5 228v1M499.5 228v1M500.5 229v1M501.5 229v1M502.5 229v1M503.5 229v1M504.5 229v1M505.5 230v1M506.5 230v1M507.5 230v1M508.5 230v1M509.5 230v1M510.5 230v1M511.5 231v1M512.5 231v1M513.5 231v1M514.5 231v1M515.5 231v1M516.5 232v1M517.5 233v1M518.5 233v1M519.5 234v1M520.5 235v1M521.5 236v1M522.5 237v1M523.5 238v1M524.5 239v2M525.5 241v1M526.5 242v2M527.5 244v1M528.5 245v1M529.5 246v2M530.5 248v1M531.5 249v1M532.5 250v1M533.5 251v1M534.5 251v1M535.5 252v1M536.5 252v1M537.5 251v1M538.5 251v1M539.5 250v1M540.5 250v1M541.5 249v1M542.5 248v1M543.5 248v1M544.5 247v1M545.5 246v1M546.5 245v1M547.5 244v1M548.5 243v1M549.5 242v1M550.5 241v1M551.5 240v1M552.5 239v1M553.5 237v2M554.5 236v1M555.5 235v1M556.5 233v2M557.5 232v1M558.5 231v1M559.5 229v2M560.5 228v1M561.5 227v1M562.5 226v1M563.5 226v1M564.5 225v1M565.5 224v1M566.5 223v1M567.5 223v1M568.5 222v1M569.5 222v1M570.5 221v1M571.5 221v1M572.5 221v1M573.5 220v1M574.5 220v1M575.5 220v1M576.5 219v1M577.5 219v1M578.5 218v1M579.5 218v1M580.5 217v1M581.5 217v1M582.5 216v1M583.5 216v1M584.5 215v1M585.5 215v1M586.5 215v1M587.5 216v1M588.5 217v1M589.5 218v1M590.5 219v1M591.5 220v2M592.5 222v2M593.5 224v2M594.5 226v1M595.5 227v2M596.5 229v1M597.5 230v2M598.5 232v2M599.5 234v2M600.5 236v3M601.5 239v3M602.5 242v3M603.5 245v4M604.5 249v3M605.5 252v2M606.5 254v2M607.5 256v3M608.5 259v2M609.5 261v3M610.5 264v2M611.5 266v2M612.5 268v3M613.5 271v2M614.5 273v2M615.5 275v2M616.5 277v2M617.5 279v2M618.5 281v2M619.5 283v1M620.5 284v1M621.5 285v1M622.5 286v2M623.5 288v1M624.5 289v1M625.5 290v1M626.5 290v1M627.5 291v1M628.5 291v1M629.5 292v1M630.5 293v1M631.5 293v1M632.5 294v1M633.5 294v1M634.5 295v1M635.5 295v1M636.5 296v1M637.5 296v1M638.5 297v1M639.5 297v1M640.5 297v1M641.5 296v1M642.5 296v1M643.5 296v1M644.5 295v1M645.5 294v1M646.5 292v2M647.5 291v1M648.5 290v1M649.5 289v1M650.5 288v1M651.5 287v1M652.5 286v1M653.5 285v1M654.5 284v1M655.5 284v1M656.5 283v1M657.5 282v1M658.5 280v2M659.5 279v1M660.5 277v2M661.5 275v2M662.5 274v1M663.5 272v2M664.5 271v1M665.5 270v1M666.5 269v1M667.5 267v2M668.5 266v1M669.5 265v1M670.5 264v1M671.5 263v1M672.5 261v2M673.5 260v1M674.5 259v1M675.5 257v2M676.5 256v1M677.5 255v1M678.5 253v2M679.5 251v2M680.5 250v1M681.5 248v2M682.5 246v2M683.5 244v2M684.5 242v2M685.5 240v2M686.5 237v3M687.5 235v2M688.5 232v3M689.5 230v2M690.5 227v3M691.5 224v3M692.5 222v2M693.5 219v3M694.5 217v2M695.5 215v2M696.5 212v3M697.5 210v2M698.5 207v3M699.5 204v3M700.5 201v3M701.5 197v4M702.5 194v3M703.5 191v3M704.5 188v3M705.5 185v3M706.5 181v4M707.5 178v3M708.5 175v3M709.5 172v3M710.5 169v3M711.5 166v3M712.5 163v3M713.5 160v3M714.5 158v2M715.5 155v3M716.5 152v3M717.5 149v3M718.5 146v3M719.5 143v3M720.5 140v3M721.5 137v3M722.5 135v2M723.5 133v2M724.5 130v3M725.5 128v2M726.5 125v3M727.5 123v2M728.5 121v2M729.5 119v2M730.5 117v2M731.5 115v2M732.5 113v2M733.5 111v2M734.5 109v2M735.5 107v2M736.5 106v1M737.5 105v1M738.5 104v1M739.5 102v2M740.5 101v1M741.5 100v1M742.5 99v1M743.5 99v1M744.5 98v1M745.5 98v1M746.5 97v1M747.5 97v1M748.5 96v1M749.5 96v1M750.5 95v1M751.5 94v1M752.5 93v1M753.5 92v1M754.5 92v1M755.5 93v1M756.5 93v1M757.5 93v1M758.5 94v1M759.5 95v1M760.5 96v1M761.5 97v1M762.5 98v1M763.5 99v2M764.5 101v1M765.5 102v1M766.5 103v2M767.5 105v1M768.5 106v2M769.5 108v2M770.5 110v2M771.5 112v2M772.5 114v2M773.5 116v2M774.5 118v2M775.5 120v1M776.5 121v2M777.5 123v2M778.5 125v1M779.5 126v2M780.5 128v1M781.5 129v2M782.5 131v1M783.5 132v1M784.5 133v1M785.5 134v1M786.5 135v1M787.5 136v1M788.5 137v1M789.5 138v2M790.5 140v1M791.5 141v1M792.5 142v2M793.5 144v1M794.5 145v1M795.5 146v2M796.5 148v1M797.5 149v1M798.5 150v1M799.5 151v1M800.5 151v1M801.5 152v2M802.5 154v2M803.5 156v3M804.5 159v2M805.5 161v3M806.5 164v3M807.5 167v2M808.5 169v3M809.5 172v3M810.5 175v2M811.5 177v2M812.5 179v2M813.5 181v2M814.5 183v2M815.5 185v2M816.5 187v2M817.5 189v1M818.5 190v1M819.5 190v1M820.5 191v1M821.5 191v1M822.5 192v1M823.5 192v1M824.5 192v1M825.5 192v1M826.5 192v1M827.5 192v1M828.5 192v1M829.5 193v1M830.5 193v1M831.5 194v1M832.5 194v1M833.5 195v1M834.5 196v1M835.5 197v1M836.5 198v1M837.5 199v2M838.5 201v2M839.5 203v2M840.5 205v3M841.5 208v3M842.5 211v2M843.5 213v3M844.5 216v3M845.5 219v3M846.5 222v2M847.5 224v3M848.5 227v3M849.5 230v2M850.5 232v3M851.5 235v2M852.5 237v3M853.5 240v2M854.5 242v3M855.5 245v3M856.5 248v4M857.5 252v4M858.5 256v3M859.5 259v2M860.5 261v2M861.5 263v2M862.5 265v2M863.5 267v2M864.5 269v2M865.5 271v1M866.5 272v2M867.5 274v2M868.5 276v1M869.5 277v2M870.5 279v2M871.5 281v1M872.5 282v2M873.5 284v2M874.5 286v1M875.5 287v2M876.5 289v2M877.5 291v2M878.5 293v2M879.5 295v2M880.5 297v2M881.5 299v2M882.5 301v1M883.5 302v2M884.5 304v1M885.5 305v2M886.5 307v1M887.5 307v1M888.5 308v1M889.5 308v1M890.5 308v1M891.5 308v1M892.5 308v1M893.5 308v1M894.5 308v1M895.5 308v1M896.5 308v1M897.5 308v1M898.5 308v1M899.5 309v2M900.5 311v2M901.5 313v2M902.5 315v2M903.5 317v2M904.5 319v2M905.5 321v3M906.5 324v2M907.5 326v3M908.5 329v2M909.5 331v2M910.5 333v2M911.5 335v2M912.5 337v2M913.5 339v2M914.5 341v2M915.5 343v2M916.5 345v2M917.5 347v2M918.5 349v2M919.5 351v2M920.5 353v2M921.5 355v2M922.5 357v3M923.5 360v2M924.5 362v3M925.5 365v2M926.5 367v3M927.5 370v3M928.5 373v4M929.5 377v3M930.5 380v3M931.5 383v2M932.5 385v2M933.5 387v3M934.5 390v2M935.5 392v2M936.5 394v3M937.5 397v2M938.5 399v2M939.5 401v2M940.5 403v2M941.5 405v2M942.5 407v2M943.5 409v2M944.5 411v2M945.5 413v2M946.5 415v1M947.5 416v2M948.5 418v2M949.5 420v2M950.5 422v2M951.5 423v1M952.5 424v1M953.5 424v1M954.5 424v1M955.5 423v1M956.5 422v1M957.5 421v1M958.5 419v2M959.5 417v2M960.5 415v2M961.5 413v2M962.5 410v3M963.5 407v3M964.5 405v2M965.5 402v3M966.5 399v3M967.5 396v3M968.5 394v2M969.5 391v3M970.5 388v3M971.5 386v2M972.5 384v2M973.5 382v2M974.5 380v2M975.5 378v2M976.5 376v2M977.5 375v1M978.5 373v2M979.5 371v2M980.5 370v1M981.5 369v1M982.5 368v1M983.5 366v2M984.5 365v1M985.5 364v1M986.5 363v1M987.5 362v1M988.5 360v2M989.5 359v1M990.5 358v1M991.5 358v1M992.5 358v1M993.5 357v1M994.5 357v1M995.5 357v1M996.5 357v1M997.5 358v1M998.5 358v1M999.5 359v1M1000.5 359v1M1001.5 360v1M1002.5 360v1M1003.5 361v1M1004.5 361v1M1005.5 362v1M1006.5 362v1M1007.5 363v1M1008.5 364v2M1009.5 366v1M1010.5 367v1M1011.5 368v1M1012.5 369v1M1013.5 370v1M1014.5 371v1M1015.5 372v1M1016.5 373v1M1017.5 374v1M1018.5 375v2M1019.5 377v1M1020.5 378v1M1021.5 378v1M1022.5 379v1M1023.5 379v1M1024.5 379v1M1025.5 378v1M1026.5 377v1M1027.5 376v1M1028.5 375v1M1029.5 374v1M1030.5 373v1M1031.5 372v1M1032.5 372v1M1033.5 371v1M1034.5 370v1M1035.5 369v1M1036.5 368v1M1037.5 366v2M1038.5 365v1M1039.5 364v1M1040.5 363v1M1041.5 362v1M1042.5 361v1M1043.5 360v1M1044.5 359v1M1045.5 359v1M1046.5 359v1M1047.5 359v1M1048.5 359v1M1049.5 360v1M1050.5 360v1M1051.5 361v1M1052.5 361v1M1053.5 362v1M1054.5 362v1M1055.5 362v1M1056.5 363v2M1057.5 365v2M1058.5 367v2M1059.5 369v2M1060.5 371v1M1061.5 372v1M1062.5 373v1M1063.5 374v1M1064.5 375v1M1065.5 376v2M1066.5 378v1M1067.5 379v2M1068.5 381v1M1069.5 382v2M1070.5 384v2M1071.5 386v2M1072.5 388v2M1073.5 390v2M1074.5 392v2M1075.5 394v2M1076.5 396v3M1077.5 399v4M1078.5 403v4M1079.5 407v3M1080.5 410v4M1081.5 414v3M1082.5 417v4M1083.5 421v3M1084.5 424v3M1085.5 427v4M1086.5 431v3M1087.5 434v3M1088.5 437v2M1089.5 439v2M1090.5 441v2M1091.5 443v3M1092.5 446v2M1093.5 448v2M1094.5 450v2M1095.5 452v2M1096.5 454v2M1097.5 456v2M1098.5 458v2M1099.5 460v2M1100.5 462v2M1101.5 464v1M1102.5 465v2M1103.5 467v1M1104.5 467v1M1105.5 468v1M1106.5 468v1M1107.5 468v1M1108.5 469v1M1109.5 469v1M1110.5 470v1M1111.5 468v2M1112.5 467v1M1113.5 465v2M1114.5 464v1M1115.5 463v1M1116.5 461v2M1117.5 460v1M1118.5 459v1M1119.5 459v1M1120.5 458v1M1121.5 458v1M1122.5 458v1M1123.5 458v1M1124.5 459v1M1125.5 459v1M1126.5 459v1M1127.5 459v1M1128.5 458v1M1129.5 458v1M1130.5 458v1"/>
<path shape-rendering="crispEdges" fill="none" stroke="#0000cd" stroke-width="1" d="M6.5 479v4M7.5 472v7M8.5 464v8M9.5 457v7M10.5 450v7M11.5 444v6M12.5 437v7M13.5 430v7M14.5 423v7M15.5 417v6M16.5 410v7M17.5 404v6M18.5 398v6M19.5 391v7M20.5 385v6M21.5 379v6M22.5 374v5M23.5 370v4M24.5 367v3M25.5 363v4M26.5 360v3M27.5 356v4M28.5 353v3M29.5 349v4M30.5 347v2M31.5 345v2M32.5 343v2M33.5 342v1M34.5 340v2M35.5 338v2M36.5 337v1M37.5 335v2M38.5 333v2M39.5 332v1M40.5 332v1M41.5 332v1M42.5 333v1M43.5 333v1M44.5 333v1M45.5 333v1M46.5 334v1M47.5 334v1M48.5 334v1M49.5 335v1M50.5 336v1M51.5 336v1M52.5 337v1M53.5 338v1M54.5 339v1M55.5 340v1M56.5 340v1M57.5 341v1M58.5 342v1M59.5 341v1M60.5 340v1M61.5 340v1M62.5 339v1M63.5 337v2M64.5 335v2M65.5 332v3M66.5 330v2M67.5 328v2M68.5 326v2M69.5 324v2M70.5 322v2M71.5 320v2M72.5 318v2M73.5 316v2M74.5 314v2M75.5 312v2M76.5 310v2M77.5 308v2M78.5 307v1M79.5 305v2M80.5 303v2M81.5 301v2M82.5 299v2M83.5 297v2M84.5 295v2M85.5 293v2M86.5 291v2M87.5 289v2M88.5 287v2M89.5 285v2M90.5 284v1M91.5 283v1M92.5 283v1M93.5 282v1M94.5 282v1M95.5 281v1M96.5 281v1M97.5 280v1M98.5 280v1M99.5 278v2M100.5 276v2M101.5 275v1M102.5 273v2M103.5 271v2M104.5 269v2M105.5 265v4M106.5 261v4M107.5 257v4M108.5 253v4M109.5 249v4M110.5 246v3M111.5 244v2M112.5 242v2M113.5 240v2M114.5 238v2M115.5 237v1M116.5 236v1M117.5 234v2M118.5 233v1M119.5 231v2M120.5 230v1M121.5 228v2M122.5 227v1M123.5 226v1M124.5 224v2M125.5 223v1M126.5 222v1M127.5 220v2M128.5 219v1M129.5 220v1M130.5 220v1M131.5 221v1M132.5 222v1M133.5 223v1M134.5 224v1M135.5 224v1M136.5 225v1M137.5 226v1M138.5 227v1M139.5 226v1M140.5 224v2M141.5 223v1M142.5 222v1M143.5 222v1M144.5 221v1M145.5 221v1M146.5 220v2M147.5 218v2M148.5 216v2M149.5 214v2M150.5 212v2M151.5 211v1M152.5 210v1M153.5 210v1M154.5 209v1M155.5 208v1M156.5 206v2M157.5 205v1M158.5 204v1M159.5 202v2M160.5 201v1M161.5 199v2M162.5 198v1M163.5 199v2M164.5 201v2M165.5 203v2M166.5 205v1M167.5 206v2M168.5 208v2M169.5 210v2M170.5 212v2M171.5 214v4M172.5 218v4M173.5 222v4M174.5 226v4M175.5 230v4M176.5 234v4M177.5 238v4M178.5 242v3M179.5 245v4M180.5 249v3M181.5 252v3M182.5 255v4M183.5 259v3M184.5 262v4M185.5 266v3M186.5 269v4M187.5 273v4M188.5 277v4M189.5 281v4M190.5 285v3M191.5 288v1M192.5 289v1M193.5 289v1M194.5 290v1M195.5 291v1M196.5 291v1M197.5 292v1M198.5 292v1M199.5 290v2M200.5 289v1M201.5 287v2M202.5 286v1M203.5 287v1M204.5 287v1M205.5 288v1M206.5 288v1M207.5 287v1M208.5 286v1M209.5 286v1M210.5 285v1M211.5 284v1M212.5 283v1M213.5 282v1M214.5 280v2M215.5 279v1M216.5 278v1M217.5 278v1M218.5 278v1M219.5 277v1M220.5 277v1M221.5 277v1M222.5 277v1M223.5 277v1M224.5 278v1M225.5 278v1M226.5 278v1M227.5 279v1M228.5 279v1M229.5 279v1M230.5 280v1M231.5 280v1M232.5 280v1M233.5 281v1M234.5 281v1M235.5 282v2M236.5 284v2M237.5 286v2M238.5 288v2M239.5 290v2M240.5 292v3M241.5 295v2M242.5 297v2M243.5 299v3M244.5 302v2M245.5 304v2M246.5 306v2M247.5 308v2M248.5 310v2M249.5 312v2M250.5 314v2M251.5 316v2M252.5 318v1M253.5 319v2M254.5 321v1M255.5 322v2M256.5 324v1M257.5 325v2M258.5 327v1M259.5 325v2M260.5 323v2M261.5 321v2M262.5 320v1M263.5 318v2M264.5 316v2M265.5 314v2M266.5 312v2M267.5 310v2M268.5 309v1M269.5 308v1M270.5 307v1M271.5 306v1M272.5 305v1M273.5 305v1M274.5 305v1M275.5 304v1M276.5 304v1M277.5 304v1M278.5 304v1M279.5 305v2M280.5 307v1M281.5 308v2M282.5 310v1M283.5 309v1M284.5 309v1M285.5 308v1M286.5 308v1M287.5 309v1M288.5 310v2M289.5 312v1M290.5 313v2M291.5 315v3M292.5 318v2M293.5 320v3M294.5 323v3M295.5 326v3M296.5 329v3M297.5 332v3M298.5 335v2M299.5 335v1M300.5 335v1M301.5 334v1M302.5 334v1M303.5 335v2M304.5 337v2M305.5 339v2M306.5 341v1M307.5 342v1M308.5 342v1M309.5 343v1M310.5 343v2M311.5 345v3M312.5 348v4M313.5 352v3M314.5 355v3M315.5 358v4M316.5 362v3M317.5 365v4M318.5 369v2M319.5 371v2M320.5 373v2M321.5 375v2M322.5 377v2M323.5 377v1M324.5 376v1M325.5 376v1M326.5 375v1M327.5 376v2M328.5 378v2M329.5 380v2M330.5 382v2M331.5 383v1M332.5 384v1M333.5 384v1M334.5 384v1M335.5 384v1M336.5 385v1M337.5 385v1M338.5 385v1M339.5 386v1M340.5 387v1M341.5 387v1M342.5 388v1M343.5 389v1M344.5 389v1M345.5 390v1M346.5 390v2M347.5 392v2M348.5 394v3M349.5 397v2M350.5 399v2M351.5 401v2M352.5 403v2M353.5 405v2M354.5 407v2M355.5 409v1M356.5 410v1M357.5 410v1M358.5 411v1M359.5 412v1M360.5 413v1M361.5 413v1M362.5 414v1M363.5 415v1M364.5 416v2M365.5 418v1M366.5 418v2M367.5 415v3M368.5 413v2M369.5 410v3M370.5 407v3M371.5 404v3M372.5 400v4M373.5 397v3M374.5 393v4M375.5 387v6M376.5 382v5M377.5 376v6M378.5 371v5M379.5 367v4M380.5 362v5M381.5 357v5M382.5 353v4M383.5 348v5M384.5 344v4M385.5 340v4M386.5 335v5M387.5 331v4M388.5 327v4M389.5 323v4M390.5 319v4M391.5 315v4M392.5 313v2M393.5 310v3M394.5 308v2M395.5 306v2M396.5 304v2M397.5 302v2M398.5 300v2M399.5 298v2M400.5 297v1M401.5 295v2M402.5 294v1M403.5 294v1M404.5 294v1M405.5 294v1M406.5 294v1M407.5 295v1M408.5 296v1M409.5 296v1M410.5 297v1M411.5 298v1M412.5 299v1M413.5 300v1M414.5 301v1M415.5 302v1M416.5 303v1M417.5 304v1M418.5 305v1M419.5 306v1M420.5 307v1M421.5 308v1M422.5 309v1M423.5 309v1M424.5 310v1M425.5 310v1M426.5 311v1M427.5 311v1M428.5 311v1M429.5 312v1M430.5 312v1M431.5 311v1M432.5 309v2M433.5 308v1M434.5 307v1M435.5 305v2M436.5 304v1M437.5 302v2M438.5 301v1M439.5 299v2M440.5 297v2M441.5 295v2M442.5 292v3M443.5 289v3M444.5 287v2M445.5 284v3M446.5 281v3M447.5 278v3M448.5 275v3M449.5 273v2M450.5 271v2M451.5 269v2M452.5 267v2M453.5 265v2M454.5 263v2M455.5 261v2M456.5 260v1M457.5 259v1M458.5 257v2M459.5 255v2M460.5 252v3M461.5 250v2M462.5 247v3M463.5 244v3M464.5 241v3M465.5 237v4M466.5 235v2M467.5 233v2M468.5 231v2M469.5 229v2M470.5 227v2M471.5 226v1M472.5 225v1M473.5 224v1M474.5 223v1M475.5 222v1M476.5 222v1M477.5 221v1M478.5 220v1M479.5 218v2M480.5 217v1M481.5 215v2M482.5 214v1M483.5 212v2M484.5 211v1M485.5 209v2M486.5 208v1M487.5 209v1M488.5 210v1M489.5 211v1M490.5 212v1M491.5 213v2M492.5 215v2M493.5 217v2M494.5 219v3M495.5 222v2M496.5 224v2M497.5 226v2M498.5 228v2M499.5 230v1M500.5 231v2M501.5 233v2M502.5 235v1M503.5 236v1M504.5 237v1M505.5 238v2M506.5 240v1M507.5 241v1M508.5 242v2M509.5 244v2M510.5 246v2M511.5 248v1M512.5 249v1M513.5 250v1M514.5 251v1M515.5 252v1M516.5 252v1M517.5 253v1M518.5 253v1M519.5 253v1M520.5 254v1M521.5 255v2M522.5 257v1M523.5 258v1M524.5 258v1M525.5 259v1M526.5 259v1M527.5 259v1M528.5 259v1M529.5 260v1M530.5 260v1M531.5 260v1M532.5 260v1M533.5 261v1M534.5 261v1M535.5 260v1M536.5 259v1M537.5 258v1M538.5 257v1M539.5 255v2M540.5 253v2M541.5 251v2M542.5 249v2M543.5 247v2M544.5 244v3M545.5 241v3M546.5 238v3M547.5 235v3M548.5 232v3M549.5 230v2M550.5 227v3M551.5 224v3M552.5 221v3M553.5 218v3M554.5 215v3M555.5 212v3M556.5 209v3M557.5 206v3M558.5 202v4M559.5 199v3M560.5 197v2M561.5 195v2M562.5 193v2M563.5 191v2M564.5 191v1M565.5 191v1M566.5 192v1M567.5 192v1M568.5 192v1M569.5 193v1M570.5 194v1M571.5 195v1M572.5 196v2M573.5 198v2M574.5 200v2M575.5 202v2M576.5 204v2M577.5 206v2M578.5 208v2M579.5 210v2M580.5 212v2M581.5 214v2M582.5 216v3M583.5 219v2M584.5 221v3M585.5 224v4M586.5 228v5M587.5 233v5M588.5 238v5M589.5 243v5M590.5 248v5M591.5 253v4M592.5 257v3M593.5 260v3M594.5 263v3M595.5 266v3M596.5 269v3M597.5 272v3M598.5 275v3M599.5 278v3M600.5 281v3M601.5 284v3M602.5 287v3M603.5 290v3M604.5 293v3M605.5 296v3M606.5 299v2M607.5 301v2M608.5 303v2M609.5 305v2M610.5 307v2M611.5 309v2M612.5 311v1M613.5 312v2M614.5 314v1M615.5 313v1M616.5 312v1M617.5 311v1M618.5 310v1M619.5 309v1M620.5 308v1M621.5 307v1M622.5 306v1M623.5 305v1M624.5 304v1M625.5 304v1M626.5 303v1M627.5 303v1M628.5 301v2M629.5 299v2M630.5 297v2M631.5 296v1M632.5 294v2M633.5 292v2M634.5 290v2M635.5 289v1M636.5 288v1M637.5 286v2M638.5 285v1M639.5 284v1M640.5 282v2M641.5 281v1M642.5 279v2M643.5 277v2M644.5 276v1M645.5 274v2M646.5 273v1M647.5 272v1M648.5 270v2M649.5 269v1M650.5 267v2M651.5 266v1M652.5 265v1M653.5 263v2M654.5 262v1M655.5 262v1M656.5 262v1M657.5 262v1M658.5 262v1M659.5 262v1M660.5 260v2M661.5 259v1M662.5 257v2M663.5 256v1M664.5 254v2M665.5 253v1M666.5 251v2M667.5 250v1M668.5 249v1M669.5 248v1M670.5 247v1M671.5 246v1M672.5 245v1M673.5 244v1M674.5 243v1M675.5 242v1M676.5 242v1M677.5 241v1M678.5 239v2M679.5 236v3M680.5 233v3M681.5 230v3M682.5 227v3M683.5 224v3M684.5 220v4M685.5 217v3M686.5 214v3M687.5 211v3M688.5 207v4M689.5 204v3M690.5 200v4M691.5 196v4M692.5 192v4M693.5 188v4M694.5 184v4M695.5 179v5M696.5 175v4M697.5 171v4M698.5 167v4M699.5 163v4M700.5 158v5M701.5 153v5M702.5 147v6M703.5 142v5M704.5 137v5M705.5 131v6M706.5 127v4M707.5 123v4M708.5 119v4M709.5 115v4M710.5 111v4M711.5 109v2M712.5 106v3M713.5 104v2M714.5 102v2M715.5 100v2M716.5 99v1M717.5 97v2M718.5 96v1M719.5 94v2M720.5 93v1M721.5 92v1M722.5 90v2M723.5 89v1M724.5 88v1M725.5 87v1M726.5 86v1M727.5 86v1M728.5 87v1M729.5 87v1M730.5 88v1M731.5 88v1M732.5 88v1M733.5 89v1M734.5 89v1M735.5 89v1M736.5 90v1M737.5 91v1M738.5 92v1M739.5 93v1M740.5 94v1M741.5 95v1M742.5 96v1M743.5 96v1M744.5 97v1M745.5 97v1M746.5 97v1M747.5 98v1M748.5 98v1M749.5 98v1M750.5 98v1M751.5 98v1M752.5 98v1M753.5 98v1M754.5 98v1M755.5 99v1M756.5 99v1M757.5 100v1M758.5 100v1M759.5 101v2M760.5 103v2M761.5 105v2M762.5 107v2M763.5 109v2M764.5 111v2M765.5 113v2M766.5 115v2M767.5 117v3M768.5 120v3M769.5 123v3M770.5 126v3M771.5 129v3M772.5 132v2M773.5 134v3M774.5 137v2M775.5 139v3M776.5 142v4M777.5 146v4M778.5 150v4M779.5 154v3M780.5 157v3M781.5 160v3M782.5 163v2M783.5 165v2M784.5 167v2M785.5 169v2M786.5 171v2M787.5 173v1M788.5 173v1M789.5 174v1M790.5 174v1M791.5 175v1M792.5 176v1M793.5 176v1M794.5 177v1M795.5 175v2M796.5 174v1M797.5 172v2M798.5 171v1M799.5 171v1M800.5 170v1M801.5 170v1M802.5 170v1M803.5 171v2M804.5 173v2M805.5 175v2M806.5 177v2M807.5 179v3M808.5 182v2M809.5 184v3M810.5 187v3M811.5 190v2M812.5 192v3M813.5 195v2M814.5 197v3M815.5 200v2M816.5 202v2M817.5 204v2M818.5 206v2M819.5 208v1M820.5 208v1M821.5 209v1M822.5 209v1M823.5 210v1M824.5 211v1M825.5 211v1M826.5 212v1M827.5 213v1M828.5 213v1M829.5 214v1M830.5 214v1M831.5 215v1M832.5 216v1M833.5 216v1M834.5 217v1M835.5 218v1M836.5 219v1M837.5 219v1M838.5 220v2M839.5 222v2M840.5 224v3M841.5 227v2M842.5 229v3M843.5 232v3M844.5 235v3M845.5 238v3M846.5 241v4M847.5 245v4M848.5 249v4M849.5 253v5M850.5 258v4M851.5 262v4M852.5 266v4M853.5 270v5M854.5 275v5M855.5 280v5M856.5 285v5M857.5 290v5M858.5 295v5M859.5 300v4M860.5 304v5M861.5 309v5M862.5 314v4M863.5 318v4M864.5 322v4M865.5 326v4M866.5 330v3M867.5 332v1M868.5 333v1M869.5 333v1M870.5 333v1M871.5 332v1M872.5 332v1M873.5 331v1M874.5 331v1M875.5 331v1M876.5 331v1M877.5 331v1M878.5 330v2M879.5 328v2M880.5 326v2M881.5 324v2M882.5 321v3M883.5 317v4M884.5 314v3M885.5 310v4M886.5 307v3M887.5 304v3M888.5 302v2M889.5 299v3M890.5 296v3M891.5 293v3M892.5 289v4M893.5 286v3M894.5 284v2M895.5 283v1M896.5 282v1M897.5 282v1M898.5 281v2M899.5 283v3M900.5 286v3M901.5 289v4M902.5 293v5M903.5 298v5M904.5 303v5M905.5 308v6M906.5 314v6M907.5 320v6M908.5 326v6M909.5 332v7M910.5 339v8M911.5 347v8M912.5 355v8M913.5 363v9M914.5 372v10M915.5 382v9M916.5 391v8M917.5 399v6M918.5 405v6M919.5 411v6M920.5 417v7M921.5 424v7M922.5 431v6M923.5 437v7M924.5 444v5M925.5 449v4M926.5 453v4M927.5 457v3M928.5 460v2M929.5 462v3M930.5 465v2M931.5 465v1M932.5 464v1M933.5 463v1M934.5 461v2M935.5 457v4M936.5 454v3M937.5 450v4M938.5 446v4M939.5 442v4M940.5 437v5M941.5 433v4M942.5 429v4M943.5 426v3M944.5 423v3M945.5 420v3M946.5 418v2M947.5 416v2M948.5 414v2M949.5 412v2M950.5 408v4M951.5 404v4M952.5 399v5M953.5 395v4M954.5 390v5M955.5 385v5M956.5 379v6M957.5 375v4M958.5 371v4M959.5 366v5M960.5 362v4M961.5 358v4M962.5 354v4M963.5 352v2M964.5 350v2M965.5 348v2M966.5 346v2M967.5 345v1M968.5 344v1M969.5 343v1M970.5 342v1M971.5 340v2M972.5 339v1M973.5 337v2M974.5 336v1M975.5 336v1M976.5 336v1M977.5 336v1M978.5 336v1M979.5 337v2M980.5 339v2M981.5 341v2M982.5 343v3M983.5 346v2M984.5 348v2M985.5 350v2M986.5 352v3M987.5 355v2M988.5 357v2M989.5 359v2M990.5 361v2M991.5 363v2M992.5 365v2M993.5 367v2M994.5 369v2M995.5 371v2M996.5 373v2M997.5 375v2M998.5 377v2M999.5 379v2M1000.5 381v2M1001.5 383v2M1002.5 385v2M1003.5 387v1M1004.5 387v1M1005.5 388v1M1006.5 388v1M1007.5 389v1M1008.5 390v1M1009.5 390v1M1010.5 391v1M1011.5 390v1M1012.5 390v1M1013.5 389v1M1014.5 389v1M1015.5 390v1M1016.5 391v1M1017.5 392v1M1018.5 393v1M1019.5 392v1M1020.5 391v1M1021.5 390v1M1022.5 388v2M1023.5 385v3M1024.5 383v2M1025.5 380v3M1026.5 377v3M1027.5 375v2M1028.5 372v3M1029.5 369v3M1030.5 366v3M1031.5 364v2M1032.5 361v3M1033.5 358v3M1034.5 356v2M1035.5 354v2M1036.5 352v2M1037.5 349v3M1038.5 347v2M1039.5 344v3M1040.5 342v2M1041.5 339v3M1042.5 336v3M1043.5 333v3M1044.5 329v4M1045.5 326v3M1046.5 324v2M1047.5 325v2M1048.5 327v2M1049.5 329v2M1050.5 331v3M1051.5 334v4M1052.5 338v3M1053.5 341v4M1054.5 345v5M1055.5 350v7M1056.5 357v7M1057.5 364v6M1058.5 370v6M1059.5 376v6M1060.5 382v5M1061.5 387v4M1062.5 391v5M1063.5 396v4M1064.5 400v5M1065.5 405v5M1066.5 410v6M1067.5 416v5M1068.5 421v6M1069.5 427v6M1070.5 433v6M1071.5 439v5M1072.5 444v5M1073.5 449v4M1074.5 453v4M1075.5 457v4M1076.5 461v4M1077.5 465v3M1078.5 468v4M1079.5 472v4M1080.5 476v6M1081.5 482v6M1082.5 488v4M1083.5 489v2M1084.5 488v1M1085.5 486v2M1086.5 485v1M1087.5 486v1M1088.5 486v1M1089.5 487v1M1090.5 487v1M1091.5 486v1M1092.5 486v1M1093.5 485v1M1094.5 485v1M1095.5 483v2M1096.5 482v1M1097.5 480v2M1098.5 479v1M1099.5 477v2M1100.5 475v2M1101.5 473v2M1102.5 471v2M1103.5 468v3M1104.5 466v2M1105.5 463v3M1106.5 460v3M1107.5 457v3M1108.5 454v3M1109.5 451v3M1110.5 449v2M1111.5 447v2M1112.5 445v2M1113.5 443v2M1114.5 441v2M1115.5 438v3M1116.5 435v3M1117.5 432v3M1118.5 430v2M1119.5 430v1M1120.5 431v1M1121.5 431v1M1122.5 431v1M1123.5 432v2M1124.5 434v1M1125.5 435v2M1126.5 437v1M1127.5 438v2M1128.5 440v2M1129.5 442v2M1130.5 444v2"/>
<g shape-rendering="crispEdges">
<rect x="6" y="149" width="1417" height="3" fill="#ff0000"/>
<rect x="6" y="244" width="1417" height="3" fill="#ff0000"/>
<rect x="6" y="425" width="1415" height="3" fill="#00ff00"/>
<rect x="6" y="512" width="1417" height="3" fill="#0000ff"/>
<rect x="5" y="423" width="7" height="7" fill="#00ff00"/>
<rect x="8" y="426" width="1" height="1" fill="#ffffff"/>
<rect x="1415" y="423" width="7" height="7" fill="#00ff00"/>
<rect x="1418" y="426" width="1" height="1" fill="#ffffff"/>
</g>
<polygon points="1132,24 1141,24 1136.5,29" fill="#c0c0c0"/>
<g shape-rendering="crispEdges" fill="#000">
<rect x="1422" y="31" width="2" height="1"/>
<rect x="1422" y="64" width="2" height="1"/>
<rect x="1422" y="97" width="2" height="1"/>
<rect x="1422" y="130" width="2" height="1"/>
<rect x="1422" y="163" width="2" height="1"/>
<rect x="1422" y="196" width="2" height="1"/>
<rect x="1422" y="229" width="2" height="1"/>
<rect x="1422" y="262" width="2" height="1"/>
<rect x="1422" y="295" width="2" height="1"/>
<rect x="1422" y="328" width="2" height="1"/>
<rect x="1422" y="361" width="2" height="1"/>
<rect x="1422" y="394" width="2" height="1"/>
<rect x="1422" y="427" width="2" height="1"/>
<rect x="1422" y="460" width="2" height="1"/>
<rect x="1422" y="493" width="2" height="1"/>
<rect x="1422" y="526" width="2" height="1"/>
<rect x="1422" y="559" width="2" height="1"/>
</g>
<text transform="translate(1427.3 35) scale(0.92 1)" font-size="9.8" fill="#000" stroke="#000" stroke-width="0.25">1.02580</text>
<text transform="translate(1427.3 68) scale(0.92 1)" font-size="9.8" fill="#000" stroke="#000" stroke-width="0.25">1.02200</text>
<text transform="translate(1427.3 101) scale(0.92 1)" font-size="9.8" fill="#000" stroke="#000" stroke-width="0.25">1.01820</text>
<text transform="translate(1427.3 134) scale(0.92 1)" font-size="9.8" fill="#000" stroke="#000" stroke-width="0.25">1.01440</text>
<text transform="translate(1427.3 167) scale(0.92 1)" font-size="9.8" fill="#000" stroke="#000" stroke-width="0.25">1.01050</text>
<text transform="translate(1427.3 200) scale(0.92 1)" font-size="9.8" fill="#000" stroke="#000" stroke-width="0.25">1.00670</text>
<text transform="translate(1427.3 233) scale(0.92 1)" font-size="9.8" fill="#000" stroke="#000" stroke-width="0.25">1.00290</text>
<text transform="translate(1427.3 266) scale(0.92 1)" font-size="9.8" fill="#000" stroke="#000" stroke-width="0.25">0.99910</text>
<text transform="translate(1427.3 299) scale(0.92 1)" font-size="9.8" fill="#000" stroke="#000" stroke-width="0.25">0.99530</text>
<text transform="translate(1427.3 332) scale(0.92 1)" font-size="9.8" fill="#000" stroke="#000" stroke-width="0.25">0.99140</text>
<text transform="translate(1427.3 365) scale(0.92 1)" font-size="9.8" fill="#000" stroke="#000" stroke-width="0.25">0.98760</text>
<text transform="translate(1427.3 398) scale(0.92 1)" font-size="9.8" fill="#000" stroke="#000" stroke-width="0.25">0.98380</text>
<text transform="translate(1427.3 464) scale(0.92 1)" font-size="9.8" fill="#000" stroke="#000" stroke-width="0.25">0.97610</text>
<text transform="translate(1427.3 497) scale(0.92 1)" font-size="9.8" fill="#000" stroke="#000" stroke-width="0.25">0.97230</text>
<text transform="translate(1427.3 530) scale(0.92 1)" font-size="9.8" fill="#000" stroke="#000" stroke-width="0.25">0.96850</text>
<text transform="translate(1427.3 563) scale(0.92 1)" font-size="9.8" fill="#000" stroke="#000" stroke-width="0.25">0.96470</text>
<rect x="1423" y="479" width="41" height="11" fill="#000000" shape-rendering="crispEdges"/>
<text transform="translate(1427.3 488) scale(0.92 1)" font-size="9.8" fill="#fff" stroke="#fff" stroke-width="0.2">0.97325</text>
<rect x="1423" y="144" width="41" height="11" fill="#ff0000" shape-rendering="crispEdges"/>
<text transform="translate(1427.3 153) scale(0.92 1)" font-size="9.8" fill="#fff" stroke="#fff" stroke-width="0.2">1.01205</text>
<rect x="1423" y="239" width="41" height="11" fill="#ff0000" shape-rendering="crispEdges"/>
<text transform="translate(1427.3 248) scale(0.92 1)" font-size="9.8" fill="#fff" stroke="#fff" stroke-width="0.2">1.00106</text>
<rect x="1423" y="420" width="41" height="11" fill="#00ff00" shape-rendering="crispEdges"/>
<text transform="translate(1427.3 429) scale(0.92 1)" font-size="9.8" fill="#fff" stroke="#fff" stroke-width="0.2">0.98004</text>
<rect x="1423" y="507" width="41" height="11" fill="#0000ff" shape-rendering="crispEdges"/>
<text transform="translate(1427.3 516) scale(0.92 1)" font-size="9.8" fill="#fff" stroke="#fff" stroke-width="0.2">0.97001</text>
<polygon points="9.5,30 16,30 12.75,33.6" fill="#000"/>
<text transform="translate(21.5 35) scale(0.9766763848396502 1)" font-size="9.8" fill="#000" stroke="#000" stroke-width="0.25">USDCHF-,Daily</text>
<text transform="translate(95 35) scale(0.9381989782572722 1)" font-size="9.8" fill="#000" stroke="#000" stroke-width="0.25">0.97284 0.97325 0.97284 0.97325</text>
<g shape-rendering="crispEdges" fill="#c0c0c0">
<rect x="6" y="610" width="1" height="3"/>
<rect x="10" y="602" width="1" height="11"/>
<rect x="14" y="593" width="1" height="20"/>
<rect x="18" y="586" width="1" height="27"/>
<rect x="22" y="581" width="1" height="32"/>
<rect x="26" y="579" width="1" height="34"/>
<rect x="30" y="577" width="1" height="36"/>
<rect x="34" y="576" width="1" height="37"/>
<rect x="38" y="576" width="1" height="37"/>
<rect x="42" y="576" width="1" height="37"/>
<rect x="46" y="575" width="1" height="38"/>
<rect x="50" y="575" width="1" height="38"/>
<rect x="54" y="575" width="1" height="38"/>
<rect x="58" y="575" width="1" height="38"/>
<rect x="62" y="575" width="1" height="38"/>
<rect x="66" y="575" width="1" height="38"/>
<rect x="70" y="575" width="1" height="38"/>
<rect x="74" y="575" width="1" height="38"/>
<rect x="78" y="575" width="1" height="38"/>
<rect x="82" y="575" width="1" height="38"/>
<rect x="86" y="575" width="1" height="38"/>
<rect x="90" y="575" width="1" height="38"/>
<rect x="94" y="575" width="1" height="38"/>
<rect x="98" y="575" width="1" height="38"/>
<rect x="102" y="575" width="1" height="38"/>
<rect x="106" y="575" width="1" height="38"/>
<rect x="110" y="575" width="1" height="38"/>
<rect x="114" y="576" width="1" height="37"/>
<rect x="118" y="576" width="1" height="37"/>
<rect x="122" y="576" width="1" height="37"/>
<rect x="126" y="576" width="1" height="37"/>
<rect x="130" y="576" width="1" height="37"/>
<rect x="134" y="576" width="1" height="37"/>
<rect x="138" y="577" width="1" height="36"/>
<rect x="142" y="577" width="1" height="36"/>
<rect x="146" y="578" width="1" height="35"/>
<rect x="150" y="578" width="1" height="35"/>
<rect x="154" y="579" width="1" height="34"/>
<rect x="158" y="580" width="1" height="33"/>
<rect x="162" y="583" width="1" height="30"/>
<rect x="166" y="588" width="1" height="25"/>
<rect x="170" y="593" width="1" height="20"/>
<rect x="174" y="599" width="1" height="14"/>
<rect x="178" y="605" width="1" height="8"/>
<rect x="182" y="609" width="1" height="4"/>
<rect x="186" y="611" width="1" height="2"/>
<rect x="190" y="611" width="1" height="2"/>
<rect x="194" y="611" width="1" height="2"/>
<rect x="198" y="612" width="1" height="1"/>
<rect x="202" y="612" width="1" height="1"/>
<rect x="206" y="612" width="1" height="4"/>
<rect x="210" y="612" width="1" height="5"/>
<rect x="214" y="612" width="1" height="3"/>
<rect x="218" y="612" width="1" height="3"/>
<rect x="222" y="612" width="1" height="3"/>
<rect x="226" y="612" width="1" height="3"/>
<rect x="230" y="612" width="1" height="4"/>
<rect x="234" y="612" width="1" height="5"/>
<rect x="238" y="612" width="1" height="9"/>
<rect x="242" y="612" width="1" height="13"/>
<rect x="246" y="612" width="1" height="14"/>
<rect x="250" y="612" width="1" height="14"/>
<rect x="254" y="612" width="1" height="12"/>
<rect x="258" y="612" width="1" height="10"/>
<rect x="262" y="612" width="1" height="9"/>
<rect x="266" y="612" width="1" height="8"/>
<rect x="270" y="612" width="1" height="8"/>
<rect x="274" y="612" width="1" height="8"/>
<rect x="278" y="612" width="1" height="9"/>
<rect x="282" y="612" width="1" height="9"/>
<rect x="286" y="612" width="1" height="10"/>
<rect x="290" y="612" width="1" height="10"/>
<rect x="294" y="612" width="1" height="13"/>
<rect x="298" y="612" width="1" height="14"/>
<rect x="302" y="612" width="1" height="14"/>
<rect x="306" y="612" width="1" height="16"/>
<rect x="310" y="612" width="1" height="17"/>
<rect x="314" y="612" width="1" height="19"/>
<rect x="318" y="612" width="1" height="22"/>
<rect x="322" y="612" width="1" height="23"/>
<rect x="326" y="612" width="1" height="21"/>
<rect x="330" y="612" width="1" height="20"/>
<rect x="334" y="612" width="1" height="21"/>
<rect x="338" y="612" width="1" height="22"/>
<rect x="342" y="612" width="1" height="23"/>
<rect x="346" y="612" width="1" height="24"/>
<rect x="350" y="612" width="1" height="27"/>
<rect x="354" y="612" width="1" height="25"/>
<rect x="358" y="612" width="1" height="22"/>
<rect x="362" y="612" width="1" height="20"/>
<rect x="366" y="612" width="1" height="18"/>
<rect x="370" y="612" width="1" height="16"/>
<rect x="374" y="612" width="1" height="12"/>
<rect x="378" y="612" width="1" height="6"/>
<rect x="382" y="612" width="1" height="1"/>
<rect x="386" y="608" width="1" height="5"/>
<rect x="390" y="603" width="1" height="10"/>
<rect x="394" y="600" width="1" height="13"/>
<rect x="398" y="599" width="1" height="14"/>
<rect x="402" y="597" width="1" height="16"/>
<rect x="406" y="598" width="1" height="15"/>
<rect x="410" y="599" width="1" height="14"/>
<rect x="414" y="599" width="1" height="14"/>
<rect x="418" y="600" width="1" height="13"/>
<rect x="422" y="599" width="1" height="14"/>
<rect x="426" y="600" width="1" height="13"/>
<rect x="430" y="599" width="1" height="14"/>
<rect x="434" y="599" width="1" height="14"/>
<rect x="438" y="597" width="1" height="16"/>
<rect x="442" y="595" width="1" height="18"/>
<rect x="446" y="593" width="1" height="20"/>
<rect x="450" y="591" width="1" height="22"/>
<rect x="454" y="591" width="1" height="22"/>
<rect x="458" y="591" width="1" height="22"/>
<rect x="462" y="589" width="1" height="24"/>
<rect x="466" y="587" width="1" height="26"/>
<rect x="470" y="584" width="1" height="29"/>
<rect x="474" y="584" width="1" height="29"/>
<rect x="478" y="584" width="1" height="29"/>
<rect x="482" y="585" width="1" height="28"/>
<rect x="486" y="586" width="1" height="27"/>
<rect x="490" y="588" width="1" height="25"/>
<rect x="494" y="592" width="1" height="21"/>
<rect x="498" y="594" width="1" height="19"/>
<rect x="502" y="597" width="1" height="16"/>
<rect x="506" y="599" width="1" height="14"/>
<rect x="510" y="601" width="1" height="12"/>
<rect x="514" y="602" width="1" height="11"/>
<rect x="518" y="603" width="1" height="10"/>
<rect x="522" y="606" width="1" height="7"/>
<rect x="526" y="608" width="1" height="5"/>
<rect x="530" y="609" width="1" height="4"/>
<rect x="534" y="609" width="1" height="4"/>
<rect x="538" y="606" width="1" height="7"/>
<rect x="542" y="602" width="1" height="11"/>
<rect x="546" y="600" width="1" height="13"/>
<rect x="550" y="598" width="1" height="15"/>
<rect x="554" y="597" width="1" height="16"/>
<rect x="558" y="594" width="1" height="19"/>
<rect x="562" y="594" width="1" height="19"/>
<rect x="566" y="597" width="1" height="16"/>
<rect x="570" y="599" width="1" height="14"/>
<rect x="574" y="601" width="1" height="12"/>
<rect x="578" y="603" width="1" height="10"/>
<rect x="582" y="606" width="1" height="7"/>
<rect x="586" y="609" width="1" height="4"/>
<rect x="590" y="612" width="1" height="4"/>
<rect x="594" y="612" width="1" height="9"/>
<rect x="598" y="612" width="1" height="11"/>
<rect x="602" y="612" width="1" height="14"/>
<rect x="606" y="612" width="1" height="16"/>
<rect x="610" y="612" width="1" height="17"/>
<rect x="614" y="612" width="1" height="16"/>
<rect x="618" y="612" width="1" height="16"/>
<rect x="622" y="612" width="1" height="14"/>
<rect x="626" y="612" width="1" height="14"/>
<rect x="630" y="612" width="1" height="11"/>
<rect x="634" y="612" width="1" height="10"/>
<rect x="638" y="612" width="1" height="8"/>
<rect x="642" y="612" width="1" height="5"/>
<rect x="646" y="612" width="1" height="3"/>
<rect x="650" y="612" width="1" height="3"/>
<rect x="654" y="612" width="1" height="2"/>
<rect x="658" y="612" width="1" height="1"/>
<rect x="662" y="612" width="1" height="1"/>
<rect x="666" y="610" width="1" height="3"/>
<rect x="670" y="608" width="1" height="5"/>
<rect x="674" y="607" width="1" height="6"/>
<rect x="678" y="605" width="1" height="8"/>
<rect x="682" y="601" width="1" height="12"/>
<rect x="686" y="597" width="1" height="16"/>
<rect x="690" y="592" width="1" height="21"/>
<rect x="694" y="588" width="1" height="25"/>
<rect x="698" y="584" width="1" height="29"/>
<rect x="702" y="579" width="1" height="34"/>
<rect x="706" y="576" width="1" height="37"/>
<rect x="710" y="573" width="1" height="40"/>
<rect x="714" y="572" width="1" height="41"/>
<rect x="718" y="572" width="1" height="41"/>
<rect x="722" y="572" width="1" height="41"/>
<rect x="726" y="573" width="1" height="40"/>
<rect x="730" y="574" width="1" height="39"/>
<rect x="734" y="576" width="1" height="37"/>
<rect x="738" y="578" width="1" height="35"/>
<rect x="742" y="581" width="1" height="32"/>
<rect x="746" y="583" width="1" height="30"/>
<rect x="750" y="583" width="1" height="30"/>
<rect x="754" y="584" width="1" height="29"/>
<rect x="758" y="587" width="1" height="26"/>
<rect x="762" y="592" width="1" height="21"/>
<rect x="766" y="597" width="1" height="16"/>
<rect x="770" y="603" width="1" height="10"/>
<rect x="774" y="608" width="1" height="5"/>
<rect x="778" y="610" width="1" height="3"/>
<rect x="782" y="612" width="1" height="1"/>
<rect x="786" y="612" width="1" height="1"/>
<rect x="790" y="612" width="1" height="1"/>
<rect x="794" y="612" width="1" height="2"/>
<rect x="798" y="612" width="1" height="3"/>
<rect x="802" y="612" width="1" height="4"/>
<rect x="806" y="612" width="1" height="9"/>
<rect x="810" y="612" width="1" height="13"/>
<rect x="814" y="612" width="1" height="16"/>
<rect x="818" y="612" width="1" height="16"/>
<rect x="822" y="612" width="1" height="14"/>
<rect x="826" y="612" width="1" height="12"/>
<rect x="830" y="612" width="1" height="13"/>
<rect x="834" y="612" width="1" height="14"/>
<rect x="838" y="612" width="1" height="17"/>
<rect x="842" y="612" width="1" height="22"/>
<rect x="846" y="612" width="1" height="27"/>
<rect x="850" y="612" width="1" height="29"/>
<rect x="854" y="612" width="1" height="32"/>
<rect x="858" y="612" width="1" height="38"/>
<rect x="862" y="612" width="1" height="39"/>
<rect x="866" y="612" width="1" height="40"/>
<rect x="870" y="612" width="1" height="38"/>
<rect x="874" y="612" width="1" height="35"/>
<rect x="878" y="612" width="1" height="32"/>
<rect x="882" y="612" width="1" height="29"/>
<rect x="886" y="612" width="1" height="23"/>
<rect x="890" y="612" width="1" height="21"/>
<rect x="894" y="612" width="1" height="17"/>
<rect x="898" y="612" width="1" height="17"/>
<rect x="902" y="612" width="1" height="25"/>
<rect x="906" y="612" width="1" height="32"/>
<rect x="910" y="612" width="1" height="40"/>
<rect x="914" y="612" width="1" height="46"/>
<rect x="918" y="612" width="1" height="49"/>
<rect x="922" y="612" width="1" height="50"/>
<rect x="926" y="612" width="1" height="51"/>
<rect x="930" y="612" width="1" height="51"/>
<rect x="934" y="612" width="1" height="45"/>
<rect x="938" y="612" width="1" height="42"/>
<rect x="942" y="612" width="1" height="36"/>
<rect x="946" y="612" width="1" height="32"/>
<rect x="950" y="612" width="1" height="28"/>
<rect x="954" y="612" width="1" height="21"/>
<rect x="958" y="612" width="1" height="16"/>
<rect x="962" y="612" width="1" height="10"/>
<rect x="966" y="612" width="1" height="5"/>
<rect x="970" y="612" width="1" height="4"/>
<rect x="974" y="612" width="1" height="3"/>
<rect x="978" y="612" width="1" height="4"/>
<rect x="982" y="612" width="1" height="7"/>
<rect x="986" y="612" width="1" height="8"/>
<rect x="990" y="612" width="1" height="9"/>
<rect x="994" y="612" width="1" height="7"/>
<rect x="998" y="612" width="1" height="8"/>
<rect x="1002" y="612" width="1" height="10"/>
<rect x="1006" y="612" width="1" height="11"/>
<rect x="1010" y="612" width="1" height="10"/>
<rect x="1014" y="612" width="1" height="10"/>
<rect x="1018" y="612" width="1" height="8"/>
<rect x="1022" y="612" width="1" height="4"/>
<rect x="1026" y="612" width="1" height="1"/>
<rect x="1030" y="609" width="1" height="4"/>
<rect x="1034" y="607" width="1" height="6"/>
<rect x="1038" y="605" width="1" height="8"/>
<rect x="1042" y="604" width="1" height="9"/>
<rect x="1046" y="604" width="1" height="9"/>
<rect x="1050" y="608" width="1" height="5"/>
<rect x="1054" y="612" width="1" height="1"/>
<rect x="1058" y="612" width="1" height="10"/>
<rect x="1062" y="612" width="1" height="15"/>
<rect x="1066" y="612" width="1" height="19"/>
<rect x="1070" y="612" width="1" height="23"/>
<rect x="1074" y="612" width="1" height="26"/>
<rect x="1078" y="612" width="1" height="29"/>
<rect x="1082" y="612" width="1" height="31"/>
<rect x="1086" y="612" width="1" height="30"/>
<rect x="1090" y="612" width="1" height="29"/>
<rect x="1094" y="612" width="1" height="27"/>
<rect x="1098" y="612" width="1" height="25"/>
<rect x="1102" y="612" width="1" height="21"/>
<rect x="1106" y="612" width="1" height="17"/>
<rect x="1110" y="612" width="1" height="15"/>
<rect x="1114" y="612" width="1" height="12"/>
<rect x="1118" y="612" width="1" height="9"/>
<rect x="1122" y="612" width="1" height="7"/>
<rect x="1126" y="612" width="1" height="10"/>
<rect x="1130" y="612" width="1" height="12"/>
</g>
<path shape-rendering="crispEdges" fill="none" stroke="#ff0000" stroke-width="1" d="M6.5 637v1M7.5 635v2M10.5 630v2M11.5 629v1M13.5 625v1M14.5 624v1M15.5 623v1M17.5 618v2M18.5 617v1M20.5 613v1M21.5 611v2M24.5 606v2M25.5 605v1M27.5 600v2M28.5 599v1M30.5 595v1M31.5 594v1M32.5 593v1M35.5 589v1M36.5 587v2M40.5 583v1M41.5 583v1M42.5 582v1M46.5 579v1M47.5 579v1M48.5 578v1M52.5 577v1M53.5 576v1M54.5 576v1M58.5 576v1M59.5 576v1M60.5 576v1M64.5 576v1M65.5 576v1M66.5 576v1M70.5 576v1M71.5 576v1M72.5 576v1M76.5 576v1M77.5 576v1M78.5 576v1M82.5 575v1M83.5 575v1M84.5 575v1M88.5 575v1M89.5 575v1M90.5 575v1M94.5 575v1M95.5 575v1M96.5 575v1M100.5 575v1M101.5 575v1M102.5 575v1M106.5 575v1M107.5 575v1M108.5 575v1M112.5 575v1M113.5 575v1M114.5 575v1M118.5 575v1M119.5 575v1M120.5 576v1M124.5 576v1M125.5 576v1M126.5 576v1M130.5 576v1M131.5 576v1M132.5 576v1M136.5 576v1M137.5 576v1M138.5 576v1M142.5 576v1M143.5 576v1M144.5 577v1M148.5 577v1M149.5 577v1M150.5 577v1M154.5 578v1M155.5 578v1M156.5 578v1M160.5 580v1M161.5 580v1M162.5 580v1M166.5 581v1M167.5 582v1M168.5 582v1M172.5 584v1M173.5 585v1M174.5 585v1M178.5 587v1M179.5 588v1M180.5 588v1M184.5 591v1M185.5 592v1M186.5 592v1M190.5 595v1M191.5 596v1M192.5 597v1M195.5 601v1M196.5 602v1M197.5 603v1M201.5 607v1M202.5 607v1M203.5 608v1M207.5 610v1M208.5 610v1M209.5 611v1M213.5 613v1M214.5 613v1M215.5 614v1M219.5 614v1M220.5 614v1M221.5 614v1M225.5 614v1M226.5 614v1M227.5 614v1M231.5 614v1M232.5 615v1M233.5 615v1M237.5 616v1M238.5 616v1M239.5 617v1M243.5 618v1M244.5 618v1M245.5 618v1M249.5 619v1M250.5 619v1M251.5 619v1M255.5 621v1M256.5 621v1M257.5 621v1M261.5 622v1M262.5 622v1M263.5 622v1M267.5 622v1M268.5 622v1M269.5 622v1M273.5 622v1M274.5 622v1M275.5 622v1M279.5 622v1M280.5 622v1M281.5 622v1M285.5 621v1M286.5 621v1M287.5 621v1M291.5 621v1M292.5 621v1M293.5 621v1M297.5 621v1M298.5 621v1M299.5 621v1M303.5 622v1M304.5 622v1M305.5 623v1M309.5 624v1M310.5 624v1M311.5 624v1M315.5 625v1M316.5 626v1M317.5 626v1M321.5 627v1M322.5 627v1M323.5 627v1M327.5 628v1M328.5 629v1M329.5 629v1M333.5 630v1M334.5 630v1M335.5 630v1M339.5 631v1M340.5 631v1M341.5 631v1M345.5 632v1M346.5 632v1M347.5 632v1M351.5 633v1M352.5 633v1M353.5 633v1M357.5 633v1M358.5 633v1M359.5 633v1M363.5 633v1M364.5 633v1M365.5 633v1M369.5 633v1M370.5 633v1M371.5 633v1M375.5 631v1M376.5 631v1M377.5 630v1M381.5 628v1M382.5 628v1M383.5 627v1M387.5 624v1M388.5 623v1M389.5 623v1M393.5 619v1M394.5 618v1M395.5 618v1M399.5 614v1M400.5 613v1M401.5 612v1M404.5 608v1M405.5 607v1M406.5 606v1M410.5 603v1M411.5 603v1M412.5 602v1M416.5 601v1M417.5 600v1M418.5 600v1M422.5 599v1M423.5 599v1M424.5 599v1M428.5 599v1M429.5 599v1M430.5 599v1M434.5 599v1M435.5 599v1M436.5 599v1M440.5 599v1M441.5 599v1M442.5 599v1M446.5 598v1M447.5 598v1M448.5 598v1M452.5 597v1M453.5 597v1M454.5 597v1M458.5 596v1M459.5 595v1M460.5 595v1M464.5 593v1M465.5 593v1M466.5 592v1M470.5 590v1M471.5 590v1M472.5 589v1M476.5 588v1M477.5 588v1M478.5 588v1M482.5 587v1M483.5 587v1M484.5 586v1M488.5 586v1M489.5 586v1M490.5 586v1M494.5 586v1M495.5 586v1M496.5 586v1M500.5 586v1M501.5 586v1M502.5 587v1M506.5 589v1M507.5 589v1M508.5 590v1M512.5 592v1M513.5 593v1M514.5 594v1M518.5 596v1M519.5 596v1M520.5 597v1M524.5 599v1M525.5 600v1M526.5 600v1M530.5 602v1M531.5 602v1M532.5 603v1M536.5 604v1M537.5 604v1M538.5 604v1M542.5 605v1M543.5 605v1M544.5 605v1M548.5 604v1M549.5 604v1M550.5 604v1M554.5 602v1M555.5 602v1M556.5 602v1M560.5 601v1M561.5 601v1M562.5 600v1M566.5 598v1M567.5 598v1M568.5 598v1M572.5 597v1M573.5 597v1M574.5 597v1M578.5 597v1M579.5 598v1M580.5 598v1M584.5 599v1M585.5 600v1M586.5 600v1M590.5 602v1M591.5 603v1M592.5 604v1M596.5 607v1M597.5 607v1M598.5 608v1M602.5 611v1M603.5 612v1M604.5 613v1M608.5 616v1M609.5 617v1M610.5 618v1M614.5 620v1M615.5 621v1M616.5 621v1M620.5 623v1M621.5 623v1M622.5 624v1M626.5 625v1M627.5 625v1M628.5 625v1M632.5 626v1M633.5 626v1M634.5 626v1M638.5 625v1M639.5 625v1M640.5 625v1M644.5 623v1M645.5 623v1M646.5 623v1M650.5 621v1M651.5 621v1M652.5 620v1M656.5 619v1M657.5 618v1M658.5 618v1M662.5 616v1M663.5 616v1M664.5 615v1M668.5 614v1M669.5 613v1M670.5 613v1M674.5 611v1M675.5 611v1M676.5 611v1M680.5 609v1M681.5 609v1M682.5 608v1M686.5 606v1M687.5 606v1M688.5 605v1M692.5 603v1M693.5 602v1M694.5 601v1M698.5 598v1M699.5 598v1M700.5 597v1M704.5 593v1M705.5 593v1M706.5 592v1M710.5 588v1M711.5 587v1M712.5 587v1M716.5 583v1M717.5 583v1M718.5 582v1M722.5 579v1M723.5 579v1M724.5 578v1M728.5 577v1M729.5 576v1M730.5 576v1M734.5 575v1M735.5 575v1M736.5 574v1M740.5 574v1M741.5 574v1M742.5 574v1M746.5 575v1M747.5 575v1M748.5 576v1M752.5 577v1M753.5 577v1M754.5 578v1M758.5 580v1M759.5 580v1M760.5 581v1M764.5 584v1M765.5 584v1M766.5 585v1M770.5 588v1M771.5 589v1M772.5 590v1M776.5 593v1M777.5 593v1M778.5 594v1M782.5 597v1M783.5 598v1M784.5 598v1M788.5 601v1M789.5 602v1M790.5 603v1M794.5 605v1M795.5 606v1M796.5 607v1M800.5 609v1M801.5 610v1M802.5 610v1M806.5 613v1M807.5 613v1M808.5 614v1M812.5 616v1M813.5 617v1M814.5 617v1M818.5 619v1M819.5 619v1M820.5 620v1M824.5 621v1M825.5 621v1M826.5 621v1M830.5 623v1M831.5 623v1M832.5 623v1M836.5 624v1M837.5 625v1M838.5 625v1M842.5 627v1M843.5 627v1M844.5 628v1M848.5 629v1M849.5 630v1M850.5 630v1M854.5 632v1M855.5 633v1M856.5 634v1M860.5 637v1M861.5 638v1M862.5 638v1M866.5 641v1M867.5 642v1M868.5 643v1M872.5 645v1M873.5 645v1M874.5 645v1M878.5 646v1M879.5 646v1M880.5 646v1M884.5 646v1M885.5 646v1M886.5 646v1M890.5 645v1M891.5 644v1M892.5 644v1M896.5 642v1M897.5 641v1M898.5 641v1M902.5 639v1M903.5 638v1M904.5 638v1M908.5 638v1M909.5 638v1M910.5 638v1M914.5 639v1M915.5 640v1M916.5 640v1M920.5 643v1M921.5 644v1M922.5 644v1M926.5 648v1M927.5 649v1M928.5 650v1M932.5 654v1M933.5 655v1M934.5 655v1M938.5 657v1M939.5 657v1M940.5 657v1M944.5 657v1M945.5 657v1M946.5 656v1M950.5 654v1M951.5 654v1M952.5 653v1M956.5 650v1M957.5 649v1M958.5 648v1M961.5 644v1M962.5 643v1M963.5 642v1M966.5 638v1M967.5 637v1M968.5 636v1M971.5 632v1M972.5 631v1M973.5 630v1M977.5 626v1M978.5 626v1M979.5 625v1M983.5 622v1M984.5 622v1M985.5 621v1M989.5 619v1M990.5 619v1M991.5 619v1M995.5 618v1M996.5 618v1M997.5 618v1M1001.5 618v1M1002.5 618v1M1003.5 618v1M1007.5 619v1M1008.5 619v1M1009.5 619v1M1013.5 620v1M1014.5 620v1M1015.5 620v1M1019.5 620v1M1020.5 620v1M1021.5 620v1M1025.5 619v1M1026.5 619v1M1027.5 619v1M1031.5 617v1M1032.5 617v1M1033.5 617v1M1037.5 615v1M1038.5 615v1M1039.5 615v1M1043.5 613v1M1044.5 613v1M1045.5 612v1M1049.5 611v1M1050.5 610v1M1051.5 610v1M1055.5 609v1M1056.5 609v1M1057.5 610v1M1061.5 610v1M1062.5 611v1M1063.5 611v1M1067.5 613v1M1068.5 614v1M1069.5 615v1M1073.5 619v1M1074.5 620v1M1075.5 621v1M1079.5 624v1M1080.5 625v1M1081.5 626v1M1085.5 630v1M1086.5 631v1M1087.5 632v1M1091.5 635v1M1092.5 635v1M1093.5 636v1M1097.5 638v1M1098.5 638v1M1099.5 638v1M1103.5 638v1M1104.5 638v1M1105.5 638v1M1109.5 637v1M1110.5 637v1M1111.5 636v1M1115.5 634v1M1116.5 634v1M1117.5 633v1M1121.5 631v1M1122.5 631v1M1123.5 630v1M1127.5 629v1M1128.5 629v1M1129.5 628v1"/>
<text transform="translate(10.3 577) scale(0.9456235552973461 1)" font-size="9.8" fill="#000" stroke="#000" stroke-width="0.25">MACD(12,26,9) -0.001961 -0.002064</text>
<g shape-rendering="crispEdges" fill="#000">
<rect x="1422" y="566" width="1" height="1"/>
<rect x="1422" y="611" width="2" height="1"/>
<rect x="1422" y="666" width="1" height="1"/>
</g>
<text transform="translate(1425.0 575) scale(0.92 1)" font-size="9.8" fill="#000" stroke="#000" stroke-width="0.25">0.006286</text>
<text transform="translate(1425.0 615) scale(0.92 1)" font-size="9.8" fill="#000" stroke="#000" stroke-width="0.25">0.00</text>
<text transform="translate(1425.0 664) scale(0.92 1)" font-size="9.8" fill="#000" stroke="#000" stroke-width="0.25">-0.00762</text>
<g shape-rendering="crispEdges">
<line x1="7" x2="1421" y1="709.5" y2="709.5" stroke="#c0c0c0" stroke-width="1" stroke-dasharray="3,3"/>
<line x1="7" x2="1421" y1="760.5" y2="760.5" stroke="#c0c0c0" stroke-width="1" stroke-dasharray="3,3"/>
</g>
<path shape-rendering="crispEdges" fill="none" stroke="#1e90ff" stroke-width="1" d="M6.5 717v1M7.5 716v1M8.5 716v1M9.5 715v1M10.5 715v1M11.5 713v2M12.5 711v2M13.5 709v2M14.5 707v2M15.5 707v1M16.5 708v1M17.5 708v1M18.5 709v1M19.5 709v1M20.5 709v1M21.5 709v1M22.5 709v1M23.5 709v1M24.5 709v1M25.5 709v1M26.5 709v1M27.5 708v1M28.5 708v1M29.5 707v1M30.5 707v1M31.5 708v1M32.5 708v1M33.5 709v1M34.5 709v2M35.5 711v2M36.5 713v2M37.5 715v2M38.5 717v2M39.5 717v1M40.5 717v1M41.5 716v1M42.5 716v1M43.5 715v1M44.5 715v1M45.5 715v1M46.5 715v1M47.5 715v1M48.5 715v1M49.5 715v1M50.5 715v1M51.5 716v2M52.5 718v2M53.5 720v2M54.5 722v2M55.5 724v2M56.5 723v2M57.5 721v2M58.5 720v1M59.5 718v2M60.5 716v2M61.5 714v2M62.5 713v1M63.5 713v1M64.5 712v1M65.5 712v1M66.5 711v1M67.5 711v1M68.5 711v1M69.5 710v1M70.5 710v1M71.5 710v1M72.5 711v1M73.5 711v1M74.5 712v1M75.5 712v1M76.5 712v1M77.5 713v1M78.5 713v1M79.5 714v1M80.5 715v1M81.5 715v1M82.5 716v1M83.5 717v1M84.5 716v1M85.5 715v1M86.5 714v1M87.5 713v1M88.5 712v1M89.5 711v1M90.5 710v1M91.5 711v2M92.5 713v1M93.5 714v1M94.5 715v2M95.5 717v1M96.5 717v1M97.5 716v1M98.5 716v1M99.5 716v1M100.5 715v1M101.5 713v2M102.5 712v1M103.5 711v1M104.5 710v1M105.5 708v2M106.5 707v1M107.5 706v1M108.5 704v2M109.5 703v1M110.5 702v2M111.5 704v4M112.5 708v3M113.5 711v3M114.5 714v4M115.5 718v2M116.5 718v1M117.5 716v2M118.5 715v1M119.5 716v2M120.5 718v1M121.5 719v2M122.5 721v1M123.5 720v1M124.5 720v1M125.5 719v1M126.5 719v1M127.5 720v2M128.5 722v1M129.5 723v1M130.5 724v2M131.5 726v1M132.5 725v1M133.5 725v1M134.5 724v1M135.5 723v1M136.5 722v1M137.5 720v2M138.5 719v1M139.5 718v1M140.5 718v1M141.5 718v1M142.5 718v1M143.5 718v1M144.5 718v1M145.5 718v1M146.5 718v1M147.5 718v1M148.5 717v1M149.5 715v2M150.5 714v1M151.5 713v2M152.5 715v2M153.5 717v2M154.5 719v2M155.5 721v2M156.5 722v1M157.5 722v1M158.5 722v1M159.5 722v1M160.5 722v1M161.5 722v1M162.5 722v2M163.5 724v4M164.5 728v3M165.5 731v4M166.5 735v2M167.5 737v1M168.5 737v1M169.5 738v1M170.5 738v2M171.5 740v2M172.5 742v2M173.5 744v2M174.5 746v2M175.5 747v1M176.5 746v1M177.5 746v1M178.5 745v1M179.5 745v1M180.5 745v1M181.5 745v1M182.5 745v1M183.5 745v1M184.5 745v1M185.5 745v1M186.5 745v1M187.5 743v2M188.5 742v1M189.5 741v1M190.5 739v2M191.5 738v1M192.5 738v1M193.5 738v1M194.5 738v1M195.5 738v1M196.5 738v1M197.5 737v1M198.5 737v1M199.5 736v1M200.5 736v1M201.5 735v1M202.5 735v2M203.5 737v3M204.5 740v2M205.5 742v3M206.5 745v2M207.5 744v2M208.5 742v2M209.5 740v2M210.5 738v2M211.5 736v2M212.5 734v2M213.5 732v2M214.5 731v1M215.5 732v1M216.5 732v1M217.5 733v1M218.5 733v1M219.5 734v1M220.5 734v1M221.5 735v1M222.5 735v1M223.5 735v1M224.5 736v1M225.5 736v1M226.5 736v1M227.5 736v1M228.5 737v1M229.5 737v1M230.5 737v1M231.5 738v2M232.5 740v2M233.5 742v1M234.5 743v2M235.5 745v2M236.5 747v1M237.5 748v2M238.5 750v2M239.5 752v1M240.5 752v1M241.5 752v1M242.5 752v1M243.5 751v1M244.5 751v1M245.5 751v1M246.5 750v2M247.5 748v2M248.5 745v3M249.5 743v2M250.5 741v2M251.5 741v1M252.5 742v1M253.5 742v1M254.5 742v1M255.5 741v1M256.5 740v1M257.5 740v1M258.5 739v1M259.5 737v2M260.5 735v2M261.5 733v2M262.5 731v2M263.5 729v2M264.5 729v1M265.5 730v1M266.5 730v2M267.5 732v3M268.5 735v2M269.5 737v3M270.5 740v2M271.5 741v1M272.5 741v1M273.5 742v1M274.5 742v1M275.5 742v1M276.5 741v1M277.5 739v2M278.5 738v2M279.5 740v3M280.5 743v4M281.5 747v3M282.5 750v2M283.5 746v4M284.5 743v3M285.5 740v3M286.5 736v4M287.5 734v2M288.5 735v1M289.5 735v1M290.5 736v2M291.5 738v2M292.5 740v2M293.5 742v3M294.5 745v2M295.5 747v2M296.5 748v1M297.5 747v1M298.5 746v2M299.5 742v4M300.5 739v3M301.5 735v4M302.5 733v2M303.5 734v2M304.5 736v2M305.5 738v2M306.5 740v2M307.5 742v2M308.5 744v1M309.5 745v1M310.5 745v1M311.5 746v1M312.5 747v1M313.5 747v1M314.5 748v1M315.5 749v1M316.5 749v1M317.5 750v1M318.5 750v1M319.5 751v1M320.5 750v1M321.5 749v1M322.5 749v1M323.5 747v2M324.5 743v4M325.5 739v4M326.5 737v2M327.5 737v1M328.5 738v1M329.5 738v1M330.5 739v1M331.5 739v1M332.5 739v1M333.5 740v1M334.5 740v1M335.5 740v1M336.5 741v1M337.5 741v1M338.5 742v2M339.5 744v1M340.5 745v2M341.5 747v1M342.5 748v2M343.5 750v1M344.5 749v1M345.5 749v1M346.5 748v1M347.5 749v2M348.5 751v2M349.5 753v2M350.5 753v3M351.5 749v4M352.5 745v4M353.5 741v4M354.5 738v3M355.5 738v1M356.5 738v1M357.5 738v1M358.5 738v1M359.5 738v1M360.5 738v1M361.5 738v1M362.5 738v1M363.5 739v1M364.5 740v1M365.5 741v1M366.5 742v1M367.5 740v2M368.5 738v2M369.5 736v2M370.5 734v2M371.5 733v1M372.5 732v1M373.5 730v2M374.5 729v1M375.5 728v1M376.5 727v1M377.5 726v1M378.5 725v1M379.5 724v1M380.5 723v1M381.5 723v1M382.5 723v1M383.5 723v1M384.5 723v1M385.5 723v1M386.5 723v1M387.5 722v1M388.5 722v1M389.5 721v1M390.5 721v1M391.5 721v1M392.5 721v1M393.5 721v1M394.5 721v1M395.5 721v1M396.5 722v1M397.5 723v2M398.5 725v1M399.5 726v1M400.5 726v1M401.5 725v1M402.5 725v1M403.5 726v1M404.5 727v2M405.5 729v1M406.5 730v1M407.5 730v1M408.5 731v1M409.5 731v1M410.5 731v1M411.5 731v1M412.5 732v1M413.5 732v1M414.5 732v1M415.5 731v1M416.5 730v1M417.5 729v1M418.5 728v1M419.5 727v1M420.5 728v1M421.5 728v1M422.5 729v1M423.5 729v1M424.5 730v1M425.5 730v1M426.5 730v1M427.5 729v1M428.5 728v1M429.5 727v1M430.5 726v1M431.5 726v1M432.5 726v1M433.5 726v1M434.5 726v1M435.5 725v1M436.5 724v1M437.5 723v1M438.5 722v1M439.5 721v1M440.5 720v1M441.5 719v1M442.5 719v1M443.5 718v1M444.5 716v2M445.5 714v2M446.5 713v1M447.5 713v1M448.5 713v1M449.5 713v1M450.5 713v1M451.5 714v2M452.5 716v2M453.5 718v2M454.5 720v2M455.5 722v1M456.5 722v1M457.5 723v1M458.5 723v1M459.5 721v2M460.5 719v2M461.5 717v2M462.5 715v2M463.5 713v2M464.5 712v1M465.5 711v1M466.5 711v1M467.5 710v1M468.5 709v1M469.5 708v1M470.5 708v1M471.5 707v2M472.5 709v3M473.5 712v3M474.5 715v3M475.5 718v2M476.5 719v1M477.5 719v1M478.5 719v1M479.5 719v1M480.5 719v1M481.5 720v1M482.5 720v1M483.5 720v1M484.5 720v1M485.5 720v1M486.5 720v1M487.5 721v2M488.5 723v2M489.5 725v2M490.5 727v2M491.5 729v2M492.5 731v1M493.5 731v1M494.5 732v1M495.5 732v1M496.5 732v1M497.5 731v1M498.5 731v1M499.5 732v1M500.5 732v1M501.5 733v1M502.5 733v1M503.5 733v1M504.5 733v1M505.5 733v1M506.5 733v1M507.5 733v1M508.5 733v1M509.5 733v1M510.5 733v1M511.5 733v1M512.5 733v1M513.5 733v1M514.5 733v1M515.5 732v1M516.5 732v1M517.5 731v1M518.5 731v2M519.5 733v3M520.5 736v2M521.5 738v3M522.5 741v2M523.5 740v2M524.5 738v2M525.5 736v2M526.5 735v1M527.5 736v1M528.5 736v1M529.5 737v1M530.5 737v1M531.5 736v1M532.5 736v1M533.5 735v1M534.5 734v2M535.5 731v3M536.5 727v4M537.5 724v3M538.5 722v2M539.5 722v1M540.5 722v1M541.5 722v1M542.5 722v1M543.5 720v3M544.5 716v4M545.5 712v4M546.5 709v3M547.5 711v2M548.5 713v2M549.5 715v2M550.5 717v2M551.5 719v2M552.5 720v1M553.5 719v1M554.5 719v1M555.5 718v1M556.5 717v1M557.5 717v1M558.5 716v1M559.5 715v2M560.5 717v2M561.5 719v2M562.5 721v2M563.5 723v3M564.5 726v3M565.5 729v3M566.5 732v2M567.5 733v1M568.5 734v1M569.5 734v1M570.5 734v1M571.5 735v1M572.5 735v1M573.5 736v1M574.5 736v1M575.5 736v1M576.5 736v1M577.5 736v1M578.5 736v1M579.5 737v1M580.5 738v1M581.5 738v1M582.5 739v1M583.5 740v1M584.5 741v1M585.5 742v2M586.5 744v1M587.5 745v2M588.5 747v3M589.5 750v3M590.5 753v3M591.5 756v2M592.5 756v1M593.5 756v1M594.5 755v1M595.5 754v2M596.5 752v2M597.5 750v2M598.5 748v2M599.5 748v1M600.5 749v1M601.5 749v1M602.5 749v1M603.5 750v1M604.5 751v1M605.5 751v1M606.5 752v1M607.5 751v1M608.5 749v2M609.5 748v1M610.5 747v1M611.5 746v1M612.5 746v1M613.5 745v1M614.5 745v1M615.5 745v1M616.5 744v1M617.5 744v1M618.5 744v1M619.5 743v1M620.5 742v1M621.5 742v1M622.5 741v1M623.5 742v1M624.5 742v1M625.5 743v1M626.5 742v2M627.5 739v3M628.5 736v3M629.5 733v3M630.5 731v2M631.5 732v1M632.5 733v1M633.5 734v1M634.5 735v1M635.5 735v1M636.5 736v1M637.5 736v1M638.5 737v1M639.5 737v1M640.5 735v2M641.5 733v2M642.5 731v2M643.5 730v1M644.5 730v1M645.5 730v1M646.5 730v1M647.5 730v1M648.5 730v1M649.5 730v1M650.5 730v1M651.5 730v1M652.5 731v1M653.5 731v1M654.5 732v1M655.5 732v1M656.5 732v1M657.5 731v1M658.5 731v1M659.5 729v2M660.5 727v2M661.5 725v2M662.5 724v1M663.5 724v1M664.5 723v1M665.5 723v1M666.5 722v1M667.5 722v1M668.5 722v1M669.5 722v1M670.5 722v1M671.5 722v1M672.5 723v1M673.5 723v1M674.5 724v1M675.5 723v1M676.5 722v1M677.5 722v1M678.5 721v1M679.5 719v2M680.5 717v2M681.5 715v2M682.5 713v2M683.5 711v2M684.5 709v2M685.5 707v2M686.5 706v1M687.5 704v2M688.5 703v1M689.5 702v1M690.5 700v2M691.5 699v1M692.5 700v1M693.5 701v1M694.5 702v1M695.5 702v1M696.5 701v1M697.5 701v1M698.5 701v1M699.5 699v2M700.5 698v1M701.5 696v2M702.5 695v1M703.5 695v1M704.5 695v1M705.5 695v1M706.5 695v1M707.5 695v1M708.5 696v1M709.5 697v1M710.5 697v1M711.5 698v1M712.5 699v1M713.5 700v1M714.5 700v1M715.5 701v1M716.5 701v1M717.5 701v1M718.5 701v1M719.5 701v1M720.5 701v1M721.5 700v1M722.5 700v1M723.5 701v1M724.5 701v1M725.5 702v1M726.5 702v2M727.5 704v2M728.5 706v2M729.5 708v2M730.5 710v2M731.5 710v1M732.5 709v1M733.5 709v1M734.5 708v1M735.5 709v2M736.5 711v2M737.5 713v2M738.5 715v1M739.5 716v1M740.5 717v1M741.5 718v1M742.5 719v1M743.5 720v1M744.5 719v1M745.5 718v1M746.5 717v1M747.5 716v1M748.5 715v1M749.5 714v1M750.5 713v1M751.5 713v1M752.5 712v1M753.5 712v1M754.5 712v3M755.5 715v4M756.5 719v5M757.5 724v4M758.5 728v3M759.5 731v2M760.5 733v2M761.5 735v2M762.5 737v2M763.5 739v2M764.5 741v1M765.5 742v1M766.5 743v2M767.5 745v1M768.5 746v2M769.5 748v2M770.5 750v2M771.5 752v2M772.5 750v2M773.5 747v3M774.5 745v2M775.5 743v2M776.5 743v1M777.5 744v1M778.5 744v1M779.5 743v1M780.5 741v2M781.5 740v1M782.5 739v1M783.5 738v1M784.5 738v1M785.5 737v1M786.5 737v1M787.5 737v1M788.5 738v1M789.5 738v1M790.5 738v1M791.5 739v1M792.5 740v1M793.5 741v1M794.5 742v1M795.5 743v1M796.5 741v2M797.5 739v2M798.5 737v2M799.5 738v1M800.5 739v2M801.5 741v1M802.5 742v1M803.5 743v2M804.5 745v2M805.5 747v2M806.5 749v2M807.5 751v2M808.5 753v1M809.5 754v1M810.5 754v1M811.5 755v1M812.5 754v1M813.5 753v1M814.5 753v1M815.5 752v1M816.5 750v2M817.5 749v1M818.5 747v2M819.5 746v1M820.5 744v2M821.5 742v2M822.5 740v2M823.5 739v1M824.5 738v1M825.5 738v1M826.5 737v1M827.5 737v1M828.5 738v1M829.5 738v1M830.5 739v2M831.5 741v3M832.5 744v3M833.5 747v3M834.5 750v2M835.5 751v1M836.5 752v1M837.5 752v1M838.5 752v1M839.5 753v2M840.5 755v2M841.5 757v2M842.5 759v2M843.5 761v1M844.5 761v1M845.5 762v1M846.5 762v1M847.5 761v1M848.5 760v1M849.5 759v1M850.5 758v1M851.5 759v1M852.5 760v1M853.5 760v1M854.5 761v1M855.5 762v1M856.5 763v1M857.5 764v1M858.5 765v1M859.5 766v1M860.5 764v2M861.5 762v2M862.5 760v2M863.5 758v2M864.5 758v1M865.5 758v1M866.5 758v1M867.5 756v2M868.5 755v1M869.5 754v1M870.5 752v2M871.5 751v1M872.5 749v2M873.5 747v2M874.5 745v2M875.5 745v1M876.5 746v1M877.5 746v1M878.5 745v2M879.5 743v2M880.5 741v2M881.5 739v2M882.5 737v2M883.5 735v2M884.5 735v1M885.5 735v1M886.5 736v1M887.5 736v1M888.5 736v1M889.5 736v1M890.5 735v1M891.5 734v1M892.5 734v1M893.5 733v1M894.5 732v2M895.5 734v4M896.5 738v3M897.5 741v4M898.5 745v3M899.5 748v3M900.5 751v4M901.5 755v3M902.5 758v2M903.5 760v1M904.5 760v1M905.5 761v1M906.5 761v1M907.5 762v1M908.5 763v1M909.5 763v1M910.5 764v1M911.5 765v1M912.5 765v1M913.5 766v1M914.5 766v1M915.5 765v1M916.5 763v2M917.5 762v1M918.5 761v1M919.5 759v2M920.5 758v1M921.5 756v2M922.5 755v1M923.5 755v1M924.5 756v1M925.5 756v1M926.5 756v1M927.5 756v1M928.5 757v1M929.5 757v1M930.5 757v1M931.5 755v2M932.5 753v2M933.5 751v2M934.5 749v2M935.5 747v2M936.5 744v3M937.5 741v3M938.5 739v2M939.5 737v2M940.5 737v1M941.5 738v1M942.5 738v1M943.5 738v1M944.5 738v1M945.5 738v1M946.5 739v1M947.5 739v1M948.5 739v1M949.5 739v1M950.5 738v2M951.5 735v3M952.5 733v2M953.5 730v3M954.5 728v2M955.5 729v1M956.5 729v1M957.5 730v1M958.5 730v1M959.5 729v1M960.5 728v1M961.5 727v1M962.5 726v1M963.5 725v1M964.5 725v1M965.5 726v1M966.5 726v1M967.5 726v2M968.5 728v3M969.5 731v4M970.5 735v2M971.5 735v1M972.5 734v1M973.5 733v1M974.5 732v1M975.5 733v2M976.5 735v2M977.5 737v2M978.5 739v2M979.5 741v1M980.5 741v1M981.5 741v1M982.5 741v1M983.5 741v1M984.5 741v1M985.5 741v1M986.5 741v1M987.5 740v2M988.5 738v2M989.5 736v2M990.5 734v2M991.5 735v1M992.5 735v1M993.5 736v1M994.5 736v1M995.5 737v2M996.5 739v2M997.5 741v2M998.5 743v1M999.5 743v1M1000.5 743v1M1001.5 743v1M1002.5 742v1M1003.5 742v1M1004.5 742v1M1005.5 742v1M1006.5 742v1M1007.5 742v1M1008.5 743v1M1009.5 743v1M1010.5 743v1M1011.5 741v2M1012.5 740v1M1013.5 738v2M1014.5 737v1M1015.5 737v1M1016.5 738v1M1017.5 738v1M1018.5 737v2M1019.5 734v3M1020.5 732v2M1021.5 729v3M1022.5 727v2M1023.5 726v1M1024.5 725v1M1025.5 723v2M1026.5 722v1M1027.5 721v1M1028.5 722v1M1029.5 722v1M1030.5 723v1M1031.5 723v1M1032.5 724v1M1033.5 725v1M1034.5 726v1M1035.5 727v2M1036.5 729v1M1037.5 730v1M1038.5 731v1M1039.5 729v2M1040.5 727v2M1041.5 725v2M1042.5 723v2M1043.5 725v2M1044.5 727v2M1045.5 729v2M1046.5 731v3M1047.5 734v3M1048.5 737v3M1049.5 740v3M1050.5 743v2M1051.5 744v1M1052.5 744v1M1053.5 745v1M1054.5 745v1M1055.5 745v3M1056.5 748v4M1057.5 752v4M1058.5 756v3M1059.5 755v2M1060.5 752v3M1061.5 750v2M1062.5 748v2M1063.5 748v1M1064.5 749v1M1065.5 749v1M1066.5 749v1M1067.5 749v1M1068.5 750v1M1069.5 750v1M1070.5 750v1M1071.5 750v1M1072.5 751v1M1073.5 751v1M1074.5 752v1M1075.5 752v1M1076.5 753v1M1077.5 753v1M1078.5 754v1M1079.5 754v1M1080.5 755v1M1081.5 755v1M1082.5 756v1M1083.5 754v3M1084.5 750v4M1085.5 745v5M1086.5 742v3M1087.5 743v1M1088.5 744v1M1089.5 745v1M1090.5 746v1M1091.5 745v1M1092.5 743v2M1093.5 742v1M1094.5 741v1M1095.5 740v1M1096.5 739v1M1097.5 739v1M1098.5 738v1M1099.5 737v1M1100.5 736v1M1101.5 735v1M1102.5 735v1M1103.5 734v1M1104.5 734v1M1105.5 733v1M1106.5 733v1M1107.5 734v1M1108.5 735v2M1109.5 737v1M1110.5 738v1M1111.5 737v1M1112.5 735v2M1113.5 734v1M1114.5 733v1M1115.5 731v2M1116.5 730v1M1117.5 730v1M1118.5 730v1M1119.5 731v2M1120.5 733v2M1121.5 735v3M1122.5 738v4M1123.5 742v2M1124.5 743v1M1125.5 744v1M1126.5 744v1M1127.5 745v1M1128.5 745v1M1129.5 744v1M1130.5 744v1"/>
<text transform="translate(10.3 682) scale(0.9316891106401679 1)" font-size="9.8" fill="#000" stroke="#000" stroke-width="0.25">RSI(14) 42.6044</text>
<g shape-rendering="crispEdges" fill="#000">
<rect x="1422" y="671" width="1" height="1"/>
<rect x="1422" y="798" width="1" height="1"/>
</g>
<text transform="translate(1425.3 680) scale(0.92 1)" font-size="9.8" fill="#000" stroke="#000" stroke-width="0.25">100</text>
<text transform="translate(1424.3 713) scale(0.92 1)" font-size="9.8" fill="#000" stroke="#000" stroke-width="0.25">70</text>
<text transform="translate(1424.3 764) scale(0.92 1)" font-size="9.8" fill="#000" stroke="#000" stroke-width="0.25">30</text>
<text transform="translate(1425.3 795.8) scale(0.92 1)" font-size="9.8" fill="#000" stroke="#000" stroke-width="0.25">0</text>
<g shape-rendering="crispEdges" fill="#000">
<rect x="6" y="800" width="1" height="3"/>
<rect x="70" y="800" width="1" height="3"/>
<rect x="134" y="800" width="1" height="3"/>
<rect x="198" y="800" width="1" height="3"/>
<rect x="262" y="800" width="1" height="3"/>
<rect x="326" y="800" width="1" height="3"/>
<rect x="390" y="800" width="1" height="3"/>
<rect x="454" y="800" width="1" height="3"/>
<rect x="518" y="800" width="1" height="3"/>
<rect x="582" y="800" width="1" height="3"/>
<rect x="646" y="800" width="1" height="3"/>
<rect x="710" y="800" width="1" height="3"/>
<rect x="774" y="800" width="1" height="3"/>
<rect x="838" y="800" width="1" height="3"/>
<rect x="902" y="800" width="1" height="3"/>
<rect x="966" y="800" width="1" height="3"/>
<rect x="1030" y="800" width="1" height="3"/>
<rect x="1094" y="800" width="1" height="3"/>
</g>
<text transform="translate(5.5 812) scale(0.935 1)" font-size="9.8" fill="#000" stroke="#000" stroke-width="0.25">1 Oct 2018</text>
<text transform="translate(69.5 812) scale(0.935 1)" font-size="9.8" fill="#000" stroke="#000" stroke-width="0.25">19 Oct 2018</text>
<text transform="translate(133.5 812) scale(0.935 1)" font-size="9.8" fill="#000" stroke="#000" stroke-width="0.25">7 Nov 2018</text>
<text transform="translate(197.5 812) scale(0.935 1)" font-size="9.8" fill="#000" stroke="#000" stroke-width="0.25">26 Nov 2018</text>
<text transform="translate(261.5 812) scale(0.935 1)" font-size="9.8" fill="#000" stroke="#000" stroke-width="0.25">14 Dec 2018</text>
<text transform="translate(325.5 812) scale(0.935 1)" font-size="9.8" fill="#000" stroke="#000" stroke-width="0.25">2 Jan 2019</text>
<text transform="translate(389.5 812) scale(0.935 1)" font-size="9.8" fill="#000" stroke="#000" stroke-width="0.25">21 Jan 2019</text>
<text transform="translate(453.5 812) scale(0.935 1)" font-size="9.8" fill="#000" stroke="#000" stroke-width="0.25">8 Feb 2019</text>
<text transform="translate(517.5 812) scale(0.935 1)" font-size="9.8" fill="#000" stroke="#000" stroke-width="0.25">27 Feb 2019</text>
<text transform="translate(581.5 812) scale(0.935 1)" font-size="9.8" fill="#000" stroke="#000" stroke-width="0.25">18 Mar 2019</text>
<text transform="translate(645.5 812) scale(0.935 1)" font-size="9.8" fill="#000" stroke="#000" stroke-width="0.25">5 Apr 2019</text>
<text transform="translate(709.5 812) scale(0.935 1)" font-size="9.8" fill="#000" stroke="#000" stroke-width="0.25">25 Apr 2019</text>
<text transform="translate(773.5 812) scale(0.935 1)" font-size="9.8" fill="#000" stroke="#000" stroke-width="0.25">14 May 2019</text>
<text transform="translate(837.5 812) scale(0.935 1)" font-size="9.8" fill="#000" stroke="#000" stroke-width="0.25">2 Jun 2019</text>
<text transform="translate(901.5 812) scale(0.935 1)" font-size="9.8" fill="#000" stroke="#000" stroke-width="0.25">20 Jun 2019</text>
<text transform="translate(965.5 812) scale(0.935 1)" font-size="9.8" fill="#000" stroke="#000" stroke-width="0.25">9 Jul 2019</text>
<text transform="translate(1029.5 812) scale(0.935 1)" font-size="9.8" fill="#000" stroke="#000" stroke-width="0.25">28 Jul 2019</text>
<text transform="translate(1093.5 812) scale(0.935 1)" font-size="9.8" fill="#000" stroke="#000" stroke-width="0.25">15 Aug 2019</text>
<g shape-rendering="crispEdges">
<rect x="1" y="820" width="1463" height="1" fill="#e3e3e3"/>
<rect x="0" y="821" width="1464" height="1" fill="#fafafa"/>
<rect x="0" y="822" width="1464" height="25" fill="#f0f0f0"/>
<rect x="1" y="822" width="1463" height="1" fill="#000"/>
<rect x="3" y="823" width="1461" height="1" fill="#fafafa"/>
<rect x="0" y="841" width="1464" height="2" fill="#fafafa"/>
<rect x="0" y="845" width="1464" height="1" fill="#c4c4c4"/>
<rect x="0" y="846" width="1464" height="1" fill="#a0a0a0"/>
<rect x="1" y="823" width="1" height="18" fill="#909090"/>
<rect x="2" y="823" width="1" height="18" fill="#666666"/>
<rect x="0" y="841" width="3" height="1" fill="#909090"/>
<rect x="224" y="821" width="106" height="19" fill="#ffffff"/>
<rect x="223" y="822" width="1" height="19" fill="#000"/>
<rect x="330" y="822" width="1" height="19" fill="#000"/>
<rect x="223" y="840" width="108" height="1" fill="#000"/>
<rect x="224" y="841" width="108" height="1" fill="#c8c8c8"/>
<rect x="331" y="824" width="1" height="17" fill="#c8c8c8"/>
</g>
<text x="18.5" y="836.8" font-size="12.3" fill="#6e6e6e" textLength="84" lengthAdjust="spacingAndGlyphs">EURUSD-,Daily</text>
<text x="125" y="836.8" font-size="12.3" fill="#6e6e6e" textLength="87" lengthAdjust="spacingAndGlyphs">AUDUSD-,Daily</text>
<text x="235.5" y="836.8" font-size="12.3" fill="#000" textLength="83.5" lengthAdjust="spacingAndGlyphs">USDCHF-,Daily</text>
<text x="342" y="836.8" font-size="12.3" fill="#6e6e6e" textLength="86" lengthAdjust="spacingAndGlyphs">USDCAD-,Daily</text>
<text x="451" y="836.8" font-size="12.3" fill="#6e6e6e" textLength="88" lengthAdjust="spacingAndGlyphs">USDCNH-,Daily</text>
<text x="562" y="836.8" font-size="12.3" fill="#6e6e6e" textLength="97" lengthAdjust="spacingAndGlyphs">EURCHF-,Weekly</text>
<text x="683" y="836.8" font-size="12.3" fill="#6e6e6e" textLength="101" lengthAdjust="spacingAndGlyphs">XAUUSD-,Weekly</text>
<text x="806" y="836.8" font-size="12.3" fill="#6e6e6e" textLength="73" lengthAdjust="spacingAndGlyphs">GBPUSD-,H1</text>
<text x="902" y="836.8" font-size="12.3" fill="#6e6e6e" textLength="57" lengthAdjust="spacingAndGlyphs">UKOil-,H1</text>
<text x="981" y="836.8" font-size="12.3" fill="#6e6e6e" textLength="83" lengthAdjust="spacingAndGlyphs">USDX-,Weekly</text>
<g shape-rendering="crispEdges" fill="#808080">
<rect x="115" y="825" width="1" height="14"/>
<rect x="439" y="825" width="1" height="14"/>
<rect x="551" y="825" width="1" height="14"/>
<rect x="672" y="825" width="1" height="14"/>
<rect x="795" y="825" width="1" height="14"/>
<rect x="891" y="825" width="1" height="14"/>
<rect x="970" y="825" width="1" height="14"/>
<rect x="1076" y="825" width="1" height="14"/>
</g>
<polygon points="1441,827 1441,835 1436,831" fill="#a0a0a0"/>
<polygon points="1455,827 1455,835 1460,831" fill="#a0a0a0"/>
</svg>
</body></html>
